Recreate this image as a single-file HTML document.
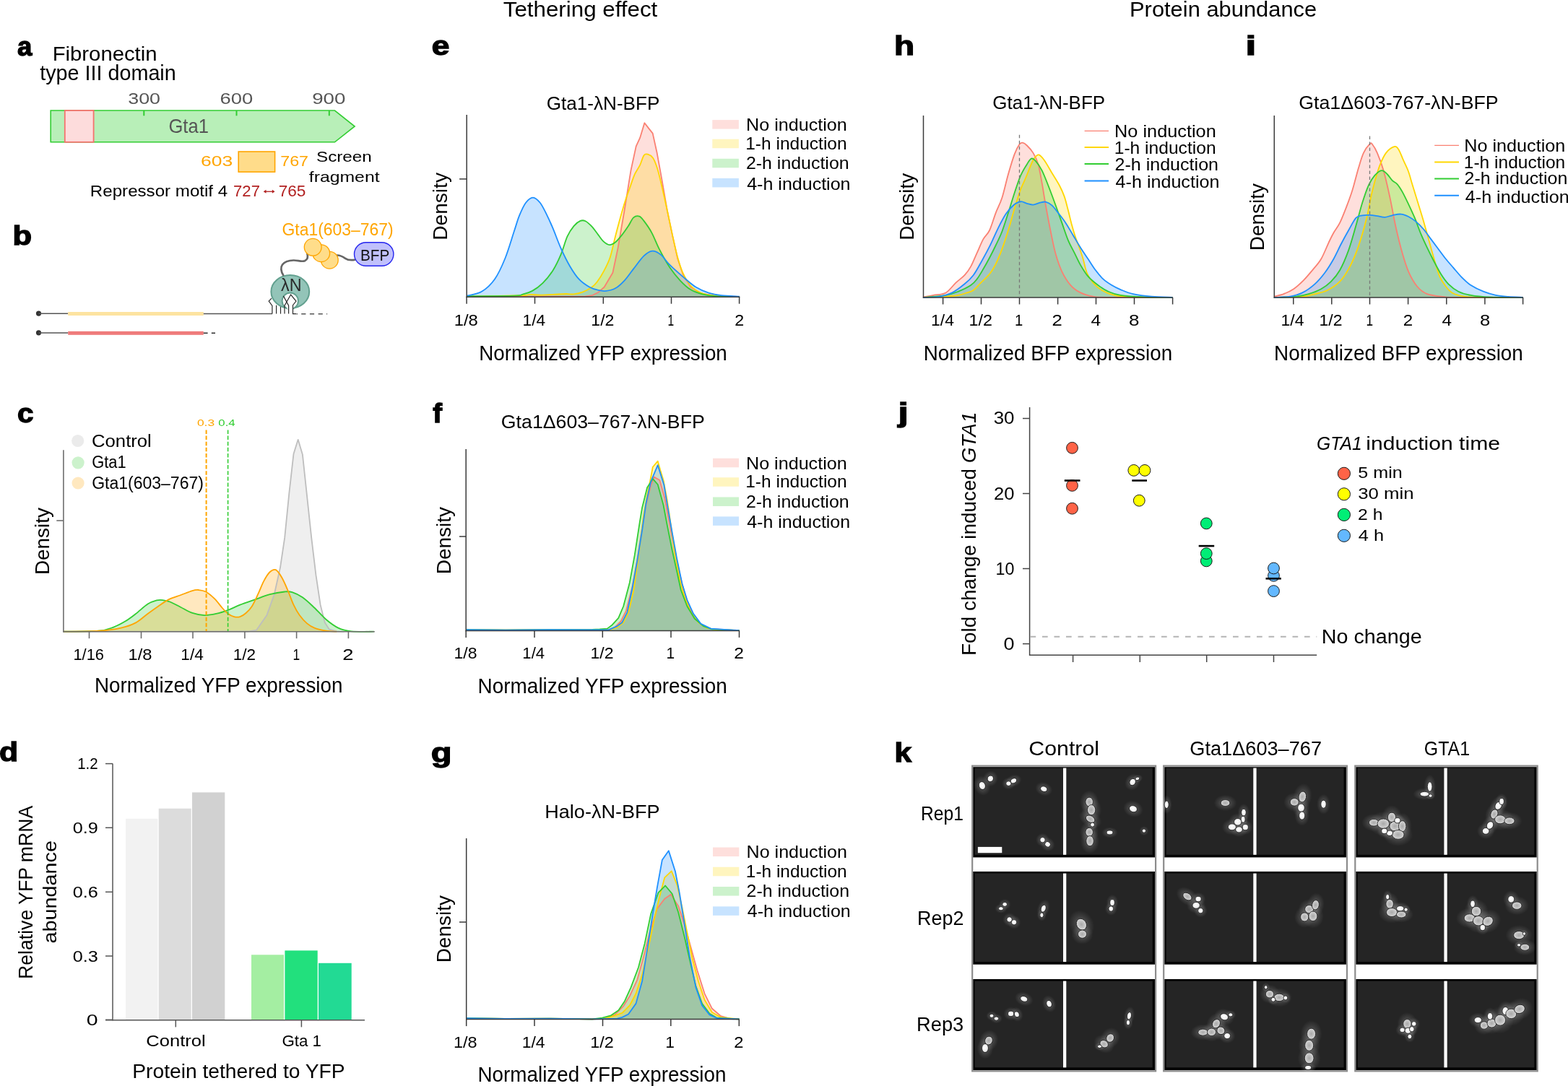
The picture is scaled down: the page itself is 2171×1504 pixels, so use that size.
<!DOCTYPE html>
<html><head><meta charset="utf-8"><title>Figure</title>
<style>html,body{margin:0;padding:0;background:#fff;} svg{display:block;}</style>
</head><body>
<svg width="2171" height="1504" viewBox="0 0 2171 1504" font-family="'Liberation Sans', Arial, sans-serif">
<rect x="0" y="0" width="2171" height="1504" fill="#fff"/>
<text x="72.66" y="83.8" font-size="28.14" textLength="144.89" lengthAdjust="spacingAndGlyphs">Fibronectin</text>
<text x="55.21" y="110.9" font-size="28.57" textLength="188.56" lengthAdjust="spacingAndGlyphs">type III domain</text>
<text x="177.23" y="143.7" font-size="22.14" textLength="44.8" lengthAdjust="spacingAndGlyphs" fill="#555">300</text>
<text x="304.53" y="143.7" font-size="22.14" textLength="45.72" lengthAdjust="spacingAndGlyphs" fill="#555">600</text>
<text x="432.21" y="143.7" font-size="22.14" textLength="46.25" lengthAdjust="spacingAndGlyphs" fill="#555">900</text>
<path d="M70.2,153 L463.5,153 L491.1,175 L463.5,196.8 L70.2,196.8 Z" fill="#b8efb8" stroke="#32CD32" stroke-width="1.6"/>
<rect x="89.8" y="153" width="39.8" height="43.8" fill="#fddcdc" stroke="#F4736E" stroke-width="1.8"/>
<line x1="199.3" y1="153" x2="199.3" y2="160.3" stroke="#32CD32" stroke-width="2"/>
<line x1="327.5" y1="153" x2="327.5" y2="160.3" stroke="#32CD32" stroke-width="2"/>
<line x1="455.8" y1="153" x2="455.8" y2="160.3" stroke="#32CD32" stroke-width="2"/>
<text x="233.42" y="184" font-size="27.57" textLength="55.5" lengthAdjust="spacingAndGlyphs" fill="#555">Gta1</text>
<text x="277.98" y="230.4" font-size="21.14" textLength="44.2" lengthAdjust="spacingAndGlyphs" fill="#FFA500">603</text>
<rect x="330.2" y="210" width="50.4" height="28.1" fill="#ffdc8a" stroke="#FFA500" stroke-width="1.6"/>
<text x="388.24" y="230.4" font-size="21.14" textLength="38.78" lengthAdjust="spacingAndGlyphs" fill="#FFA500">767</text>
<text x="437.99" y="224.4" font-size="21.14" textLength="76.87" lengthAdjust="spacingAndGlyphs">Screen</text>
<text x="427.85" y="252.1" font-size="21.14" textLength="97.69" lengthAdjust="spacingAndGlyphs">fragment</text>
<text x="124.87" y="272" font-size="22.14" textLength="190.34" lengthAdjust="spacingAndGlyphs">Repressor motif 4</text>
<text x="323.09" y="272" font-size="22.14" textLength="36.87" lengthAdjust="spacingAndGlyphs" fill="#B22222">727</text>
<text x="385.67" y="272" font-size="22.14" textLength="37.8" lengthAdjust="spacingAndGlyphs" fill="#B22222">765</text>
<line x1="367" y1="265.3" x2="378.5" y2="265.3" stroke="#B22222" stroke-width="1.3"/>
<path d="M364.7,265.3 L368.5,262.8 L368.5,267.8 Z M380.6,265.3 L376.8,262.8 L376.8,267.8 Z" fill="#B22222"/>
<circle cx="53.5" cy="434.1" r="3.6" fill="#333"/>
<line x1="53.5" y1="434.3" x2="94.2" y2="434.3" stroke="#555" stroke-width="1.5"/>
<rect x="94.2" y="432" width="187.6" height="5" fill="#fde3a0"/>
<line x1="281.8" y1="434.5" x2="377" y2="434.5" stroke="#555" stroke-width="1.5"/>
<circle cx="53.5" cy="460.8" r="3.6" fill="#333"/>
<line x1="53.5" y1="461" x2="94.2" y2="461" stroke="#555" stroke-width="1.5"/>
<rect x="94.2" y="458.8" width="187.6" height="5" fill="#ef7b7b"/>
<line x1="281.8" y1="461.3" x2="287.6" y2="461.3" stroke="#333" stroke-width="1.6"/>
<line x1="292.8" y1="461.3" x2="298" y2="461.3" stroke="#333" stroke-width="1.6"/>
<line x1="410.5" y1="434.8" x2="453.4" y2="434.8" stroke="#555" stroke-width="1.6" stroke-dasharray="1.5,5.2,6.2,5.5,6.2,5.5,6.2,5.3,1"/>
<path d="M376.9,434.6 L376.9,423.5 L372.2,417.1 L376,413.1" fill="none" stroke="#2a2a2a" stroke-width="1.2"/>
<line x1="382.6" y1="434.6" x2="382.6" y2="422.8" stroke="#2a2a2a" stroke-width="1.2"/>
<line x1="388.5" y1="434.6" x2="388.5" y2="422.8" stroke="#2a2a2a" stroke-width="1.2"/>
<ellipse cx="401.8" cy="404" rx="26.4" ry="22.9" fill="#93c4b8" stroke="#62a08f" stroke-width="2"/>
<circle cx="401.8" cy="416.8" r="11.2" fill="#fff" stroke="#62a08f" stroke-width="2"/>
<path d="M396.5,425 L407,425 L404.3,430 L399.2,430 Z" fill="#fff"/>
<path d="M392.4,409.9 L399.6,423.2 L399.6,434.6 M394,434.6 L394,423.2 L402.6,408 L410,417.1 L405.5,422.7 L405.5,434.6 L410,434.6" fill="none" stroke="#2a2a2a" stroke-width="1.2" stroke-linejoin="miter"/>
<text x="389.07" y="403.3" font-size="23.86" textLength="28.55" lengthAdjust="spacingAndGlyphs" fill="#2a2a2a">λN</text>
<path d="M425.3,351 C426.6,355 426.6,359 422,361.2 C418,363 412,360.4 406.5,360.5 C400,360.7 394,362.5 391,366.5 C388.4,370 388.8,376 392.2,381" fill="none" stroke="#666" stroke-width="2.7" stroke-linecap="round"/>
<path d="M466.5,353.5 C471,353.3 474,355 478,357.8 C482,360.6 486,360.6 490.8,359.9" fill="none" stroke="#666" stroke-width="2.7" stroke-linecap="round"/>
<circle cx="456.3" cy="360.2" r="11.9" fill="#ffdd8a" stroke="#FFA500" stroke-width="1.3"/>
<circle cx="444.7" cy="350.7" r="11.9" fill="#ffdd8a" stroke="#FFA500" stroke-width="1.3"/>
<circle cx="433.2" cy="342.3" r="11.9" fill="#ffdd8a" stroke="#FFA500" stroke-width="1.3"/>
<text x="390.55" y="326.1" font-size="23.14" textLength="154.07" lengthAdjust="spacingAndGlyphs" fill="#FFA500">Gta1(603–767)</text>
<rect x="490.5" y="335.7" width="54.4" height="32.5" rx="16.2" ry="16.2" fill="#c0c0fc" stroke="#2525ee" stroke-width="1.4"/>
<text x="498.94" y="360.6" font-size="21.86" textLength="40.29" lengthAdjust="spacingAndGlyphs" fill="#111">BFP</text>
<path d="M87.89,874.72 L270.49,874.72 L332.32,874.52 L344.69,874.31 L354.99,872.66 L369.42,852.05 L379.72,823.2 L387.97,786.1 L394.15,744.88 L400.33,683.05 L406.52,628.43 L412.7,608.85 L418.88,629.46 L425.07,687.17 L431.25,744.88 L437.43,796.41 L443.62,837.63 L449.8,862.36 L455.98,871.63 L466.29,874.31 L476.59,874.72 L476.59,874.7 L87.89,874.7 Z" fill="#BEBEBE" fill-opacity="0.25" stroke="none"/>
<path d="M87.89,874.72 C95.99,874.55 124.98,874.72 136.53,873.69 C148.07,872.66 150.95,870.77 157.14,868.54 C163.32,866.31 168.47,863.39 173.62,860.3 C178.78,857.21 182.9,853.94 188.05,849.99 C193.2,846.04 199.73,839.69 204.54,836.6 C209.35,833.5 213.47,832.37 216.9,831.44 C220.34,830.52 222.06,830.69 225.15,831.03 C228.24,831.37 231.33,831.89 235.45,833.5 C239.58,835.12 244.73,838.14 249.88,840.72 C255.03,843.29 260.87,847.07 266.37,848.96 C271.86,850.85 277.36,851.88 282.86,852.05 C288.35,852.22 293.85,851.19 299.34,849.99 C304.84,848.79 310.34,846.9 315.83,844.84 C321.33,842.78 326.14,840.03 332.32,837.63 C338.5,835.22 346.06,832.82 352.93,830.41 C359.8,828.01 366.67,825.02 373.54,823.2 C380.41,821.38 389,820 394.15,819.49 C399.3,818.97 400.33,818.8 404.46,820.11 C408.58,821.41 413.73,823.71 418.88,827.32 C424.04,830.93 429.87,836.6 435.37,841.75 C440.87,846.9 446.36,853.6 451.86,858.24 C457.36,862.87 462.51,866.89 468.35,869.57 C474.19,872.25 478.65,873.45 486.9,874.31 C495.14,875.17 512.66,874.66 517.81,874.72 L517.81,874.7 L87.89,874.7 Z" fill="#32CD32" fill-opacity="0.25" stroke="none"/>
<path d="M87.89,874.72 C95.99,874.55 123.27,874.55 136.53,873.69 C149.78,872.83 158.85,871.46 167.44,869.57 C176.03,867.68 181.87,865.62 188.05,862.36 C194.23,859.09 199.39,853.77 204.54,849.99 C209.69,846.21 214.16,842.95 218.97,839.69 C223.77,836.42 228.24,832.99 233.39,830.41 C238.54,827.84 244.38,826.29 249.88,824.23 C255.38,822.17 262.25,819.25 266.37,818.05 C270.49,816.84 271.52,816.78 274.61,817.02 C277.7,817.26 281.14,817.43 284.92,819.49 C288.7,821.55 293.51,825.67 297.28,829.38 C301.06,833.09 304.5,838.31 307.59,841.75 C310.68,845.18 313.08,847.93 315.83,849.99 C318.58,852.05 321.33,853.43 324.08,854.11 C326.82,854.8 329.57,854.97 332.32,854.11 C335.07,853.26 337.82,851.37 340.56,848.96 C343.31,846.56 346.06,843.98 348.81,839.69 C351.56,835.39 354.3,829.04 357.05,823.2 C359.8,817.36 362.55,809.8 365.3,804.65 C368.04,799.5 370.79,794.86 373.54,792.28 C376.29,789.71 379.04,787.99 381.78,789.19 C384.53,790.39 387.28,794.86 390.03,799.5 C392.78,804.13 395.52,810.66 398.27,817.02 C401.02,823.37 403.77,831.79 406.52,837.63 C409.26,843.47 411.67,847.76 414.76,852.05 C417.85,856.35 421.63,860.47 425.07,863.39 C428.5,866.31 430.91,867.85 435.37,869.57 C439.84,871.29 446.71,872.83 451.86,873.69 C457.01,874.55 463.88,874.55 466.29,874.72 L466.29,874.7 L87.89,874.7 Z" fill="#FFA500" fill-opacity="0.25" stroke="none"/>
<path d="M87.89,874.72 L270.49,874.72 L332.32,874.52 L344.69,874.31 L354.99,872.66 L369.42,852.05 L379.72,823.2 L387.97,786.1 L394.15,744.88 L400.33,683.05 L406.52,628.43 L412.7,608.85 L418.88,629.46 L425.07,687.17 L431.25,744.88 L437.43,796.41 L443.62,837.63 L449.8,862.36 L455.98,871.63 L466.29,874.31 L476.59,874.72" fill="none" stroke="#BEBEBE" stroke-width="1.8" stroke-linejoin="round"/>
<path d="M87.89,874.72 C95.99,874.55 124.98,874.72 136.53,873.69 C148.07,872.66 150.95,870.77 157.14,868.54 C163.32,866.31 168.47,863.39 173.62,860.3 C178.78,857.21 182.9,853.94 188.05,849.99 C193.2,846.04 199.73,839.69 204.54,836.6 C209.35,833.5 213.47,832.37 216.9,831.44 C220.34,830.52 222.06,830.69 225.15,831.03 C228.24,831.37 231.33,831.89 235.45,833.5 C239.58,835.12 244.73,838.14 249.88,840.72 C255.03,843.29 260.87,847.07 266.37,848.96 C271.86,850.85 277.36,851.88 282.86,852.05 C288.35,852.22 293.85,851.19 299.34,849.99 C304.84,848.79 310.34,846.9 315.83,844.84 C321.33,842.78 326.14,840.03 332.32,837.63 C338.5,835.22 346.06,832.82 352.93,830.41 C359.8,828.01 366.67,825.02 373.54,823.2 C380.41,821.38 389,820 394.15,819.49 C399.3,818.97 400.33,818.8 404.46,820.11 C408.58,821.41 413.73,823.71 418.88,827.32 C424.04,830.93 429.87,836.6 435.37,841.75 C440.87,846.9 446.36,853.6 451.86,858.24 C457.36,862.87 462.51,866.89 468.35,869.57 C474.19,872.25 478.65,873.45 486.9,874.31 C495.14,875.17 512.66,874.66 517.81,874.72" fill="none" stroke="#32CD32" stroke-width="1.8" stroke-linejoin="round"/>
<path d="M87.89,874.72 C95.99,874.55 123.27,874.55 136.53,873.69 C149.78,872.83 158.85,871.46 167.44,869.57 C176.03,867.68 181.87,865.62 188.05,862.36 C194.23,859.09 199.39,853.77 204.54,849.99 C209.69,846.21 214.16,842.95 218.97,839.69 C223.77,836.42 228.24,832.99 233.39,830.41 C238.54,827.84 244.38,826.29 249.88,824.23 C255.38,822.17 262.25,819.25 266.37,818.05 C270.49,816.84 271.52,816.78 274.61,817.02 C277.7,817.26 281.14,817.43 284.92,819.49 C288.7,821.55 293.51,825.67 297.28,829.38 C301.06,833.09 304.5,838.31 307.59,841.75 C310.68,845.18 313.08,847.93 315.83,849.99 C318.58,852.05 321.33,853.43 324.08,854.11 C326.82,854.8 329.57,854.97 332.32,854.11 C335.07,853.26 337.82,851.37 340.56,848.96 C343.31,846.56 346.06,843.98 348.81,839.69 C351.56,835.39 354.3,829.04 357.05,823.2 C359.8,817.36 362.55,809.8 365.3,804.65 C368.04,799.5 370.79,794.86 373.54,792.28 C376.29,789.71 379.04,787.99 381.78,789.19 C384.53,790.39 387.28,794.86 390.03,799.5 C392.78,804.13 395.52,810.66 398.27,817.02 C401.02,823.37 403.77,831.79 406.52,837.63 C409.26,843.47 411.67,847.76 414.76,852.05 C417.85,856.35 421.63,860.47 425.07,863.39 C428.5,866.31 430.91,867.85 435.37,869.57 C439.84,871.29 446.71,872.83 451.86,873.69 C457.01,874.55 463.88,874.55 466.29,874.72" fill="none" stroke="#FFA500" stroke-width="1.8" stroke-linejoin="round"/>
<line x1="285.6" y1="595.5" x2="285.6" y2="874.7" stroke="#FFA500" stroke-width="2" stroke-dasharray="5.5,2.6"/>
<line x1="315.6" y1="595.5" x2="315.6" y2="874.7" stroke="#32CD32" stroke-width="1.6" stroke-dasharray="5.5,2.6"/>
<text x="272.9" y="590.3" font-size="13.29" textLength="24.27" lengthAdjust="spacingAndGlyphs" fill="#FFA500">0.3</text>
<text x="302.33" y="590.3" font-size="13.29" textLength="23.27" lengthAdjust="spacingAndGlyphs" fill="#32CD32">0.4</text>
<line x1="87.9" y1="623.3" x2="87.9" y2="875.45" stroke="#6e6e6e" stroke-width="1.6"/>
<line x1="87.2" y1="874.7" x2="518.8" y2="874.7" stroke="#6e6e6e" stroke-width="1.6"/>
<line x1="78.3" y1="721" x2="87.9" y2="721" stroke="#6e6e6e" stroke-width="1.6"/>
<line x1="123.5" y1="874.7" x2="123.5" y2="884.2" stroke="#6e6e6e" stroke-width="1.6"/>
<line x1="195.5" y1="874.7" x2="195.5" y2="884.2" stroke="#6e6e6e" stroke-width="1.6"/>
<line x1="267" y1="874.7" x2="267" y2="884.2" stroke="#6e6e6e" stroke-width="1.6"/>
<line x1="338.9" y1="874.7" x2="338.9" y2="884.2" stroke="#6e6e6e" stroke-width="1.6"/>
<line x1="410.6" y1="874.7" x2="410.6" y2="884.2" stroke="#6e6e6e" stroke-width="1.6"/>
<line x1="482.4" y1="874.7" x2="482.4" y2="884.2" stroke="#6e6e6e" stroke-width="1.6"/>
<text x="101.45" y="913.9" font-size="22.14" textLength="42.56" lengthAdjust="spacingAndGlyphs">1/16</text>
<text x="177.6" y="913.9" font-size="22.14" textLength="32.98" lengthAdjust="spacingAndGlyphs">1/8</text>
<text x="250.39" y="913.9" font-size="22.14" textLength="31.49" lengthAdjust="spacingAndGlyphs">1/4</text>
<text x="322.8" y="913.9" font-size="22.14" textLength="31.33" lengthAdjust="spacingAndGlyphs">1/2</text>
<text x="405.4" y="913.9" font-size="22.14" textLength="9.7" lengthAdjust="spacingAndGlyphs">1</text>
<text x="474.23" y="913.9" font-size="22.14" textLength="15.23" lengthAdjust="spacingAndGlyphs">2</text>
<text x="130.88" y="958.8" font-size="29" textLength="343.58" lengthAdjust="spacingAndGlyphs">Normalized YFP expression</text>
<text transform="translate(68.1,793.8) rotate(-90)" x="-2.23" y="0" font-size="27.71" textLength="92.95" lengthAdjust="spacingAndGlyphs">Density</text>
<circle cx="107.7" cy="610.5" r="8.6" fill="#BEBEBE" fill-opacity="0.3"/>
<circle cx="108.1" cy="640.8" r="8.6" fill="#32CD32" fill-opacity="0.25"/>
<circle cx="108.1" cy="669" r="8.6" fill="#FFA500" fill-opacity="0.25"/>
<text x="127.02" y="618.7" font-size="24.43" textLength="82.81" lengthAdjust="spacingAndGlyphs">Control</text>
<text x="127.21" y="648" font-size="24.43" textLength="47.44" lengthAdjust="spacingAndGlyphs">Gta1</text>
<text x="127.15" y="676.9" font-size="24.43" textLength="154.78" lengthAdjust="spacingAndGlyphs">Gta1(603–767)</text>
<rect x="174" y="1133.8" width="44.4" height="278.9" fill="#f2f2f2"/>
<rect x="219.7" y="1119.7" width="45" height="293" fill="#dcdcdc"/>
<rect x="266" y="1097.4" width="45.3" height="315.3" fill="#d1d1d1"/>
<rect x="348" y="1322.3" width="45" height="90.4" fill="#a4eea2"/>
<rect x="394.4" y="1316.4" width="45.3" height="96.3" fill="#22e07d"/>
<rect x="441" y="1333.8" width="45.7" height="78.9" fill="#22da94"/>
<line x1="156" y1="1057.6" x2="156" y2="1413.45" stroke="#555" stroke-width="1.5"/>
<line x1="146" y1="1412.7" x2="505" y2="1412.7" stroke="#555" stroke-width="1.5"/>
<line x1="146" y1="1057.6" x2="156" y2="1057.6" stroke="#555" stroke-width="1.5"/>
<text x="107.16" y="1065.2" font-size="21.86" textLength="28.46" lengthAdjust="spacingAndGlyphs">1.2</text>
<line x1="146" y1="1146.3" x2="156" y2="1146.3" stroke="#555" stroke-width="1.5"/>
<text x="100.79" y="1153.9" font-size="21.86" textLength="35.07" lengthAdjust="spacingAndGlyphs">0.9</text>
<line x1="146" y1="1235.3" x2="156" y2="1235.3" stroke="#555" stroke-width="1.5"/>
<text x="100.79" y="1242.9" font-size="21.86" textLength="35.07" lengthAdjust="spacingAndGlyphs">0.6</text>
<line x1="146" y1="1324" x2="156" y2="1324" stroke="#555" stroke-width="1.5"/>
<text x="100.79" y="1331.6" font-size="21.86" textLength="35.07" lengthAdjust="spacingAndGlyphs">0.3</text>
<line x1="146" y1="1412.3" x2="156" y2="1412.3" stroke="#555" stroke-width="1.5"/>
<text x="119.76" y="1419.9" font-size="21.86" textLength="15.87" lengthAdjust="spacingAndGlyphs">0</text>
<line x1="243.3" y1="1412.7" x2="243.3" y2="1422.4" stroke="#555" stroke-width="1.5"/>
<line x1="417.4" y1="1412.7" x2="417.4" y2="1422.4" stroke="#555" stroke-width="1.5"/>
<text x="202.32" y="1449.4" font-size="22.57" textLength="82.4" lengthAdjust="spacingAndGlyphs">Control</text>
<text x="390.38" y="1449.4" font-size="22.57" textLength="54.64" lengthAdjust="spacingAndGlyphs">Gta 1</text>
<text x="183.24" y="1492.8" font-size="28.14" textLength="294.41" lengthAdjust="spacingAndGlyphs">Protein tethered to YFP</text>
<text transform="translate(44.8,1353.8) rotate(-90)" x="-2.13" y="0" font-size="27.71" textLength="240.13" lengthAdjust="spacingAndGlyphs">Relative YFP mRNA</text>
<text transform="translate(77.8,1305.4) rotate(-90)" x="-1.15" y="0" font-size="26.57" textLength="142.45" lengthAdjust="spacingAndGlyphs">abundance</text>
<path d="M646.47,410.79 L810.65,410.43 L819.63,409.18 L828.61,404.69 L836.69,397.5 L848.37,377.74 L855.56,343.61 L864.54,291.52 L873.52,235.83 L880.7,202.6 L886.09,190.93 L892.38,170.27 L898.67,178.35 L903.7,184.64 L909.44,210.69 L916.63,250.2 L923.82,291.52 L931,325.65 L938.19,357.98 L945.37,379.54 L956.15,397.5 L970.52,406.48 L990.28,409.72 L1023.87,410.97 L1023.87,411.2 L646.47,411.2 Z" fill="#FA8072" fill-opacity="0.25" stroke="none"/>
<path d="M646.47,410.61 C658.86,410.37 706.34,409.63 720.83,409.18 C735.32,408.73 728.92,408.01 733.41,407.92 C737.9,407.83 742.39,408.64 747.78,408.64 C753.17,408.64 759.75,408.19 765.74,407.92 C771.73,407.65 778.91,407.11 783.7,407.02 C788.49,406.93 790.59,407.83 794.48,407.38 C798.37,406.93 802.86,405.97 807.06,404.33 C811.25,402.68 816.34,399.84 819.63,397.5 C822.92,395.17 824.12,393.91 826.82,390.32 C829.51,386.72 832.8,381.63 835.8,375.94 C838.79,370.26 842.08,364.27 844.78,356.19 C847.47,348.1 849.57,336.73 851.96,327.44 C854.36,318.16 856.9,308.58 859.15,300.5 C861.39,292.42 863.34,285.53 865.44,278.94 C867.53,272.36 869.48,267.27 871.72,260.98 C873.97,254.69 876.51,246.61 878.91,241.22 C881.3,235.83 884,232.99 886.09,228.65 C888.19,224.31 889.69,217.66 891.48,215.18 C893.28,212.69 894.78,213.14 896.87,213.74 C898.97,214.34 901.81,215.39 904.06,218.77 C906.3,222.15 908.25,227.3 910.34,234.04 C912.44,240.77 914.38,249.61 916.63,259.19 C918.88,268.77 921.42,280.44 923.82,291.52 C926.21,302.6 928.61,314.87 931,325.65 C933.4,336.43 935.79,347.5 938.19,356.19 C940.58,364.87 942.38,371.15 945.37,377.74 C948.36,384.33 951.96,391.06 956.15,395.7 C960.34,400.34 964.83,403.25 970.52,405.58 C976.21,407.92 981.39,408.82 990.28,409.72 C999.17,410.61 1018.27,410.76 1023.87,410.97 L1023.87,411.2 L646.47,411.2 Z" fill="#FFD700" fill-opacity="0.25" stroke="none"/>
<path d="M646.47,410.07 C657.36,410.01 698.86,410.16 711.85,409.72 C724.85,409.27 720.23,408.52 724.43,407.38 C728.62,406.24 732.51,405.43 737,402.89 C741.49,400.34 746.58,396.9 751.37,392.11 C756.16,387.32 761.55,380.73 765.74,374.15 C769.93,367.56 773.23,360.38 776.52,352.59 C779.81,344.81 782.51,334.03 785.5,327.44 C788.49,320.86 791.49,316.67 794.48,313.07 C797.48,309.48 800.77,307.03 803.46,305.89 C806.16,304.75 807.95,304.9 810.65,306.25 C813.34,307.6 816.64,310.74 819.63,313.97 C822.62,317.21 825.92,322.21 828.61,325.65 C831.31,329.09 833.25,332.38 835.8,334.63 C838.34,336.88 841.19,338.97 843.88,339.12 C846.57,339.27 849.12,337.77 851.96,335.53 C854.81,333.28 857.95,329.39 860.94,325.65 C863.94,321.91 867.23,317.12 869.93,313.07 C872.62,309.03 874.57,303.64 877.11,301.4 C879.66,299.15 882.8,298.85 885.19,299.6 C887.59,300.35 888.64,302.15 891.48,305.89 C894.33,309.63 898.67,315.47 902.26,322.06 C905.85,328.64 908.85,337.32 913.04,345.41 C917.23,353.49 922.62,363.37 927.41,370.56 C932.2,377.74 936.99,383.43 941.78,388.52 C946.57,393.61 951.06,397.95 956.15,401.09 C961.24,404.24 966.63,405.88 972.32,407.38 C978,408.88 981.69,409.48 990.28,410.07 C998.87,410.67 1018.27,410.82 1023.87,410.97 L1023.87,411.2 L646.47,411.2 Z" fill="#32CD32" fill-opacity="0.25" stroke="none"/>
<path d="M646.47,409.72 C649.88,408.73 660.54,407.62 666.94,403.79 C673.35,399.96 679.52,394.36 684.91,386.72 C690.3,379.09 694.79,369.06 699.28,357.98 C703.77,346.9 708.56,330.14 711.85,320.26 C715.15,310.38 716.34,305.29 719.04,298.7 C721.73,292.12 724.88,284.93 728.02,280.74 C731.16,276.55 734.61,273.56 737.9,273.56 C741.19,273.56 744.63,276.85 747.78,280.74 C750.92,284.63 753.77,290.92 756.76,296.91 C759.75,302.9 762.45,308.88 765.74,316.67 C769.03,324.45 772.63,334.93 776.52,343.61 C780.41,352.29 784.9,361.57 789.09,368.76 C793.28,375.94 797.18,381.93 801.67,386.72 C806.16,391.51 811.55,394.96 816.04,397.5 C820.53,400.05 824.72,401.09 828.61,401.99 C832.5,402.89 835.5,403.34 839.39,402.89 C843.28,402.44 847.77,401.69 851.96,399.3 C856.15,396.9 860.35,393.01 864.54,388.52 C868.73,384.03 872.62,378.04 877.11,372.35 C881.6,366.66 887.14,358.52 891.48,354.39 C895.82,350.26 899.27,347.86 903.16,347.56 C907.05,347.26 910.79,349.36 914.83,352.59 C918.88,355.83 922.32,361.87 927.41,366.96 C932.5,372.05 939.38,378.04 945.37,383.13 C951.36,388.22 957.35,393.76 963.33,397.5 C969.32,401.24 975.31,403.64 981.3,405.58 C987.28,407.53 992.16,408.34 999.26,409.18 C1006.36,410.01 1019.77,410.37 1023.87,410.61 L1023.87,411.2 L646.47,411.2 Z" fill="#1E90FF" fill-opacity="0.25" stroke="none"/>
<path d="M646.47,410.79 L810.65,410.43 L819.63,409.18 L828.61,404.69 L836.69,397.5 L848.37,377.74 L855.56,343.61 L864.54,291.52 L873.52,235.83 L880.7,202.6 L886.09,190.93 L892.38,170.27 L898.67,178.35 L903.7,184.64 L909.44,210.69 L916.63,250.2 L923.82,291.52 L931,325.65 L938.19,357.98 L945.37,379.54 L956.15,397.5 L970.52,406.48 L990.28,409.72 L1023.87,410.97" fill="none" stroke="#FA8072" stroke-width="1.8" stroke-linejoin="round"/>
<path d="M646.47,410.61 C658.86,410.37 706.34,409.63 720.83,409.18 C735.32,408.73 728.92,408.01 733.41,407.92 C737.9,407.83 742.39,408.64 747.78,408.64 C753.17,408.64 759.75,408.19 765.74,407.92 C771.73,407.65 778.91,407.11 783.7,407.02 C788.49,406.93 790.59,407.83 794.48,407.38 C798.37,406.93 802.86,405.97 807.06,404.33 C811.25,402.68 816.34,399.84 819.63,397.5 C822.92,395.17 824.12,393.91 826.82,390.32 C829.51,386.72 832.8,381.63 835.8,375.94 C838.79,370.26 842.08,364.27 844.78,356.19 C847.47,348.1 849.57,336.73 851.96,327.44 C854.36,318.16 856.9,308.58 859.15,300.5 C861.39,292.42 863.34,285.53 865.44,278.94 C867.53,272.36 869.48,267.27 871.72,260.98 C873.97,254.69 876.51,246.61 878.91,241.22 C881.3,235.83 884,232.99 886.09,228.65 C888.19,224.31 889.69,217.66 891.48,215.18 C893.28,212.69 894.78,213.14 896.87,213.74 C898.97,214.34 901.81,215.39 904.06,218.77 C906.3,222.15 908.25,227.3 910.34,234.04 C912.44,240.77 914.38,249.61 916.63,259.19 C918.88,268.77 921.42,280.44 923.82,291.52 C926.21,302.6 928.61,314.87 931,325.65 C933.4,336.43 935.79,347.5 938.19,356.19 C940.58,364.87 942.38,371.15 945.37,377.74 C948.36,384.33 951.96,391.06 956.15,395.7 C960.34,400.34 964.83,403.25 970.52,405.58 C976.21,407.92 981.39,408.82 990.28,409.72 C999.17,410.61 1018.27,410.76 1023.87,410.97" fill="none" stroke="#FFD700" stroke-width="1.8" stroke-linejoin="round"/>
<path d="M646.47,410.07 C657.36,410.01 698.86,410.16 711.85,409.72 C724.85,409.27 720.23,408.52 724.43,407.38 C728.62,406.24 732.51,405.43 737,402.89 C741.49,400.34 746.58,396.9 751.37,392.11 C756.16,387.32 761.55,380.73 765.74,374.15 C769.93,367.56 773.23,360.38 776.52,352.59 C779.81,344.81 782.51,334.03 785.5,327.44 C788.49,320.86 791.49,316.67 794.48,313.07 C797.48,309.48 800.77,307.03 803.46,305.89 C806.16,304.75 807.95,304.9 810.65,306.25 C813.34,307.6 816.64,310.74 819.63,313.97 C822.62,317.21 825.92,322.21 828.61,325.65 C831.31,329.09 833.25,332.38 835.8,334.63 C838.34,336.88 841.19,338.97 843.88,339.12 C846.57,339.27 849.12,337.77 851.96,335.53 C854.81,333.28 857.95,329.39 860.94,325.65 C863.94,321.91 867.23,317.12 869.93,313.07 C872.62,309.03 874.57,303.64 877.11,301.4 C879.66,299.15 882.8,298.85 885.19,299.6 C887.59,300.35 888.64,302.15 891.48,305.89 C894.33,309.63 898.67,315.47 902.26,322.06 C905.85,328.64 908.85,337.32 913.04,345.41 C917.23,353.49 922.62,363.37 927.41,370.56 C932.2,377.74 936.99,383.43 941.78,388.52 C946.57,393.61 951.06,397.95 956.15,401.09 C961.24,404.24 966.63,405.88 972.32,407.38 C978,408.88 981.69,409.48 990.28,410.07 C998.87,410.67 1018.27,410.82 1023.87,410.97" fill="none" stroke="#32CD32" stroke-width="1.8" stroke-linejoin="round"/>
<path d="M646.47,409.72 C649.88,408.73 660.54,407.62 666.94,403.79 C673.35,399.96 679.52,394.36 684.91,386.72 C690.3,379.09 694.79,369.06 699.28,357.98 C703.77,346.9 708.56,330.14 711.85,320.26 C715.15,310.38 716.34,305.29 719.04,298.7 C721.73,292.12 724.88,284.93 728.02,280.74 C731.16,276.55 734.61,273.56 737.9,273.56 C741.19,273.56 744.63,276.85 747.78,280.74 C750.92,284.63 753.77,290.92 756.76,296.91 C759.75,302.9 762.45,308.88 765.74,316.67 C769.03,324.45 772.63,334.93 776.52,343.61 C780.41,352.29 784.9,361.57 789.09,368.76 C793.28,375.94 797.18,381.93 801.67,386.72 C806.16,391.51 811.55,394.96 816.04,397.5 C820.53,400.05 824.72,401.09 828.61,401.99 C832.5,402.89 835.5,403.34 839.39,402.89 C843.28,402.44 847.77,401.69 851.96,399.3 C856.15,396.9 860.35,393.01 864.54,388.52 C868.73,384.03 872.62,378.04 877.11,372.35 C881.6,366.66 887.14,358.52 891.48,354.39 C895.82,350.26 899.27,347.86 903.16,347.56 C907.05,347.26 910.79,349.36 914.83,352.59 C918.88,355.83 922.32,361.87 927.41,366.96 C932.5,372.05 939.38,378.04 945.37,383.13 C951.36,388.22 957.35,393.76 963.33,397.5 C969.32,401.24 975.31,403.64 981.3,405.58 C987.28,407.53 992.16,408.34 999.26,409.18 C1006.36,410.01 1019.77,410.37 1023.87,410.61" fill="none" stroke="#1E90FF" stroke-width="1.8" stroke-linejoin="round"/>
<line x1="646.2" y1="159" x2="646.2" y2="411.95" stroke="#3a3a3a" stroke-width="1.5"/>
<line x1="645.5" y1="411.2" x2="1024.3" y2="411.2" stroke="#3a3a3a" stroke-width="1.5"/>
<line x1="636.1" y1="247.9" x2="646.2" y2="247.9" stroke="#3a3a3a" stroke-width="1.5"/>
<line x1="646.1" y1="411.2" x2="646.1" y2="420.7" stroke="#3a3a3a" stroke-width="1.5"/>
<line x1="740.5" y1="411.2" x2="740.5" y2="420.7" stroke="#3a3a3a" stroke-width="1.5"/>
<line x1="835.3" y1="411.2" x2="835.3" y2="420.7" stroke="#3a3a3a" stroke-width="1.5"/>
<line x1="929.5" y1="411.2" x2="929.5" y2="420.7" stroke="#3a3a3a" stroke-width="1.5"/>
<line x1="1023.6" y1="411.2" x2="1023.6" y2="420.7" stroke="#3a3a3a" stroke-width="1.5"/>
<text x="628.7" y="451.3" font-size="22.14" textLength="33.1" lengthAdjust="spacingAndGlyphs">1/8</text>
<text x="723.58" y="451.3" font-size="22.14" textLength="31.6" lengthAdjust="spacingAndGlyphs">1/4</text>
<text x="818.35" y="451.3" font-size="22.14" textLength="32.1" lengthAdjust="spacingAndGlyphs">1/2</text>
<text x="924.45" y="451.3" font-size="22.14" textLength="8.66" lengthAdjust="spacingAndGlyphs">1</text>
<text x="1017.34" y="451.3" font-size="22.14" textLength="12.94" lengthAdjust="spacingAndGlyphs">2</text>
<text x="663.28" y="498.8" font-size="29" textLength="343.58" lengthAdjust="spacingAndGlyphs">Normalized YFP expression</text>
<text x="756.8" y="152.1" font-size="25.71" textLength="156.53" lengthAdjust="spacingAndGlyphs">Gta1-λN-BFP</text>
<text transform="translate(619.3,330.6) rotate(-90)" x="-2.25" y="0" font-size="27.71" textLength="93.88" lengthAdjust="spacingAndGlyphs">Density</text>
<rect x="986.3" y="166.1" width="36.6" height="12.5" fill="#FA8072" fill-opacity="0.25"/>
<text x="1033.09" y="180.9" font-size="23.86" textLength="139.64" lengthAdjust="spacingAndGlyphs">No induction</text>
<rect x="986.3" y="192.7" width="36.6" height="12.5" fill="#FFD700" fill-opacity="0.25"/>
<text x="1032.24" y="206.9" font-size="23.86" textLength="140.37" lengthAdjust="spacingAndGlyphs">1-h induction</text>
<rect x="986.3" y="219.8" width="36.6" height="12.5" fill="#32CD32" fill-opacity="0.25"/>
<text x="1032.95" y="234" font-size="23.86" textLength="142.68" lengthAdjust="spacingAndGlyphs">2-h induction</text>
<rect x="986.3" y="246.9" width="36.6" height="12.5" fill="#1E90FF" fill-opacity="0.25"/>
<text x="1034.2" y="263.3" font-size="23.86" textLength="143.34" lengthAdjust="spacingAndGlyphs">4-h induction</text>
<path d="M645.5,872.2 L700,872.6 L760,872.2 L842.47,872.33 L851.11,868.88 L859.75,860.24 L866.66,846.41 L875.31,813.57 L882.22,775.55 L889.13,730.61 L894.32,699.5 L901.23,671.85 L905.55,660.62 L913.33,664.94 L920.24,689.13 L925.43,716.79 L930.61,744.44 L937.53,779 L944.44,808.39 L951.35,832.58 L959.99,851.59 L970.36,864.56 L984.19,870.95 L1023.59,873.2 L1023.59,873.4 L645.5,873.4 Z" fill="#FA8072" fill-opacity="0.25" stroke="none"/>
<path d="M645.5,872.2 L700,872.6 L760,872.2 L842.47,872.68 L854.57,868.88 L863.21,861.96 L870.12,848.14 L877.03,818.76 L882.22,784.19 L887.4,744.44 L890.86,715.06 L896.05,685.68 L900.37,664.94 L903.82,646.79 L910.74,638.67 L914.19,651.11 L918.51,664.94 L923.7,692.59 L928.88,727.16 L934.07,765.18 L940.98,801.47 L947.89,827.4 L956.54,848.14 L966.91,861.96 L979,869.74 L992.83,872.33 L1023.59,873.2 L1023.59,873.4 L645.5,873.4 Z" fill="#FFD700" fill-opacity="0.25" stroke="none"/>
<path d="M645.5,872.2 L700,872.6 L760,872.2 L820,871.99 L830.37,871.47 L840.74,870.6 L847.65,865.42 L856.29,855.91 L863.21,839.5 L871.85,806.66 L878.76,768.63 L885.68,723.7 L889.13,702.96 L896.05,675.31 L903.82,663.21 L910.74,670.99 L918.51,699.5 L923.7,727.16 L930.61,761.72 L937.53,792.83 L942.71,817.03 L951.35,839.5 L961.72,856.78 L973.82,867.15 L985.92,871.47 L1023.59,873.2 L1023.59,873.4 L645.5,873.4 Z" fill="#32CD32" fill-opacity="0.25" stroke="none"/>
<path d="M645.5,872.2 L700,872.6 L760,872.2 L842.47,872.33 L854.57,867.15 L861.48,861.96 L868.39,848.14 L875.31,815.3 L882.22,777.28 L889.13,734.07 L894.32,697.77 L901.23,666.66 L910.74,644.2 L919.38,671.85 L924.56,702.96 L930.61,737.53 L937.53,775.55 L944.44,808.39 L951.35,830.85 L959.99,849.87 L970.36,863.69 L984.19,870.6 L1023.59,873.2 L1023.59,873.4 L645.5,873.4 Z" fill="#1E90FF" fill-opacity="0.25" stroke="none"/>
<path d="M645.5,872.2 L700,872.6 L760,872.2 L842.47,872.33 L851.11,868.88 L859.75,860.24 L866.66,846.41 L875.31,813.57 L882.22,775.55 L889.13,730.61 L894.32,699.5 L901.23,671.85 L905.55,660.62 L913.33,664.94 L920.24,689.13 L925.43,716.79 L930.61,744.44 L937.53,779 L944.44,808.39 L951.35,832.58 L959.99,851.59 L970.36,864.56 L984.19,870.95 L1023.59,873.2" fill="none" stroke="#FA8072" stroke-width="1.8" stroke-linejoin="round"/>
<path d="M645.5,872.2 L700,872.6 L760,872.2 L842.47,872.68 L854.57,868.88 L863.21,861.96 L870.12,848.14 L877.03,818.76 L882.22,784.19 L887.4,744.44 L890.86,715.06 L896.05,685.68 L900.37,664.94 L903.82,646.79 L910.74,638.67 L914.19,651.11 L918.51,664.94 L923.7,692.59 L928.88,727.16 L934.07,765.18 L940.98,801.47 L947.89,827.4 L956.54,848.14 L966.91,861.96 L979,869.74 L992.83,872.33 L1023.59,873.2" fill="none" stroke="#FFD700" stroke-width="1.8" stroke-linejoin="round"/>
<path d="M645.5,872.2 L700,872.6 L760,872.2 L820,871.99 L830.37,871.47 L840.74,870.6 L847.65,865.42 L856.29,855.91 L863.21,839.5 L871.85,806.66 L878.76,768.63 L885.68,723.7 L889.13,702.96 L896.05,675.31 L903.82,663.21 L910.74,670.99 L918.51,699.5 L923.7,727.16 L930.61,761.72 L937.53,792.83 L942.71,817.03 L951.35,839.5 L961.72,856.78 L973.82,867.15 L985.92,871.47 L1023.59,873.2" fill="none" stroke="#32CD32" stroke-width="1.8" stroke-linejoin="round"/>
<path d="M645.5,872.2 L700,872.6 L760,872.2 L842.47,872.33 L854.57,867.15 L861.48,861.96 L868.39,848.14 L875.31,815.3 L882.22,777.28 L889.13,734.07 L894.32,697.77 L901.23,666.66 L910.74,644.2 L919.38,671.85 L924.56,702.96 L930.61,737.53 L937.53,775.55 L944.44,808.39 L951.35,830.85 L959.99,849.87 L970.36,863.69 L984.19,870.6 L1023.59,873.2" fill="none" stroke="#1E90FF" stroke-width="1.8" stroke-linejoin="round"/>
<line x1="645.2" y1="622" x2="645.2" y2="874.15" stroke="#3a3a3a" stroke-width="1.5"/>
<line x1="644.5" y1="873.4" x2="1023.5" y2="873.4" stroke="#3a3a3a" stroke-width="1.5"/>
<line x1="636" y1="743" x2="645.2" y2="743" stroke="#3a3a3a" stroke-width="1.5"/>
<line x1="645.2" y1="873.4" x2="645.2" y2="882.9" stroke="#3a3a3a" stroke-width="1.5"/>
<line x1="740" y1="873.4" x2="740" y2="882.9" stroke="#3a3a3a" stroke-width="1.5"/>
<line x1="834.3" y1="873.4" x2="834.3" y2="882.9" stroke="#3a3a3a" stroke-width="1.5"/>
<line x1="929" y1="873.4" x2="929" y2="882.9" stroke="#3a3a3a" stroke-width="1.5"/>
<line x1="1023.5" y1="873.4" x2="1023.5" y2="882.9" stroke="#3a3a3a" stroke-width="1.5"/>
<text x="628.46" y="911.9" font-size="22.14" textLength="31.99" lengthAdjust="spacingAndGlyphs">1/8</text>
<text x="723.33" y="911.9" font-size="22.14" textLength="30.84" lengthAdjust="spacingAndGlyphs">1/4</text>
<text x="817.56" y="911.9" font-size="22.14" textLength="31.99" lengthAdjust="spacingAndGlyphs">1/2</text>
<text x="922.43" y="911.9" font-size="22.14" textLength="11.64" lengthAdjust="spacingAndGlyphs">1</text>
<text x="1016.27" y="911.9" font-size="22.14" textLength="13.66" lengthAdjust="spacingAndGlyphs">2</text>
<text x="661.57" y="960.4" font-size="29" textLength="345.2" lengthAdjust="spacingAndGlyphs">Normalized YFP expression</text>
<text x="693.87" y="593.3" font-size="26.43" textLength="281.91" lengthAdjust="spacingAndGlyphs">Gta1Δ603–767-λN-BFP</text>
<text transform="translate(623.9,793) rotate(-90)" x="-2.24" y="0" font-size="27.71" textLength="93.36" lengthAdjust="spacingAndGlyphs">Density</text>
<rect x="987" y="634.75" width="36" height="12.5" fill="#FA8072" fill-opacity="0.25"/>
<text x="1032.99" y="649.8" font-size="23.86" textLength="139.74" lengthAdjust="spacingAndGlyphs">No induction</text>
<rect x="987" y="661.25" width="36" height="12.5" fill="#FFD700" fill-opacity="0.25"/>
<text x="1032.24" y="675" font-size="23.86" textLength="140.37" lengthAdjust="spacingAndGlyphs">1-h induction</text>
<rect x="987" y="688.45" width="36" height="12.5" fill="#32CD32" fill-opacity="0.25"/>
<text x="1032.95" y="702.5" font-size="23.86" textLength="142.68" lengthAdjust="spacingAndGlyphs">2-h induction</text>
<rect x="987" y="715.35" width="36" height="12.5" fill="#1E90FF" fill-opacity="0.25"/>
<text x="1034.2" y="730.7" font-size="23.86" textLength="142.94" lengthAdjust="spacingAndGlyphs">4-h induction</text>
<path d="M646,1410.2 L700,1410.8 L760,1410.6 L820,1411.47 L837.28,1410.6 L851.11,1405.42 L863.21,1393.32 L871.85,1379.5 L882.22,1357.03 L890.86,1325.92 L899.5,1291.35 L909.87,1258.51 L920.24,1244.69 L928.88,1238.64 L939.25,1255.06 L947.89,1280.98 L956.54,1312.09 L965.18,1343.2 L975.55,1376.04 L985.92,1396.78 L998.02,1407.15 L1010.11,1410.6 L1023.59,1411.47 L1023.59,1411.6 L646,1411.6 Z" fill="#FA8072" fill-opacity="0.25" stroke="none"/>
<path d="M646,1410.2 L700,1410.8 L760,1410.6 L820,1411.47 L837.28,1410.6 L849.38,1407.15 L861.48,1402.83 L871.85,1392.46 L880.49,1376.04 L889.13,1350.11 L897.77,1312.09 L906.42,1270.61 L913.33,1241.23 L920.24,1215.31 L929.75,1206.32 L937.53,1225.68 L944.44,1256.79 L951.35,1291.35 L958.26,1325.92 L966.91,1358.76 L975.55,1384.68 L985.92,1401.96 L998.02,1408.88 L1023.59,1411.47 L1023.59,1411.6 L646,1411.6 Z" fill="#FFD700" fill-opacity="0.25" stroke="none"/>
<path d="M646,1410.2 L700,1410.8 L760,1410.6 L820,1411.47 L833.83,1409.74 L845.92,1406.28 L856.29,1399.37 L864.94,1386.41 L873.58,1367.4 L883.95,1339.74 L892.59,1306.91 L901.23,1265.43 L911.6,1236.05 L921.11,1226.54 L930.61,1237.77 L939.25,1263.7 L947.89,1298.26 L956.54,1336.29 L963.45,1365.67 L972.09,1389.87 L982.46,1403.69 L992.83,1409.74 L1023.59,1411.47 L1023.59,1411.6 L646,1411.6 Z" fill="#32CD32" fill-opacity="0.25" stroke="none"/>
<path d="M646,1410.2 L700,1410.8 L760,1410.6 L820,1411.47 L854.57,1410.6 L861.48,1408.88 L870.12,1404.56 L880.49,1389.87 L889.13,1358.76 L896.05,1315.55 L902.96,1270.61 L909.87,1229.13 L916.79,1191.11 L925.77,1178.15 L934.93,1206.66 L940.98,1237.77 L947.89,1280.98 L954.81,1324.19 L963.45,1367.4 L972.09,1392.46 L982.46,1405.42 L992.83,1410.26 L1023.59,1411.47 L1023.59,1411.6 L646,1411.6 Z" fill="#1E90FF" fill-opacity="0.25" stroke="none"/>
<path d="M646,1410.2 L700,1410.8 L760,1410.6 L820,1411.47 L837.28,1410.6 L851.11,1405.42 L863.21,1393.32 L871.85,1379.5 L882.22,1357.03 L890.86,1325.92 L899.5,1291.35 L909.87,1258.51 L920.24,1244.69 L928.88,1238.64 L939.25,1255.06 L947.89,1280.98 L956.54,1312.09 L965.18,1343.2 L975.55,1376.04 L985.92,1396.78 L998.02,1407.15 L1010.11,1410.6 L1023.59,1411.47" fill="none" stroke="#FA8072" stroke-width="1.8" stroke-linejoin="round"/>
<path d="M646,1410.2 L700,1410.8 L760,1410.6 L820,1411.47 L837.28,1410.6 L849.38,1407.15 L861.48,1402.83 L871.85,1392.46 L880.49,1376.04 L889.13,1350.11 L897.77,1312.09 L906.42,1270.61 L913.33,1241.23 L920.24,1215.31 L929.75,1206.32 L937.53,1225.68 L944.44,1256.79 L951.35,1291.35 L958.26,1325.92 L966.91,1358.76 L975.55,1384.68 L985.92,1401.96 L998.02,1408.88 L1023.59,1411.47" fill="none" stroke="#FFD700" stroke-width="1.8" stroke-linejoin="round"/>
<path d="M646,1410.2 L700,1410.8 L760,1410.6 L820,1411.47 L833.83,1409.74 L845.92,1406.28 L856.29,1399.37 L864.94,1386.41 L873.58,1367.4 L883.95,1339.74 L892.59,1306.91 L901.23,1265.43 L911.6,1236.05 L921.11,1226.54 L930.61,1237.77 L939.25,1263.7 L947.89,1298.26 L956.54,1336.29 L963.45,1365.67 L972.09,1389.87 L982.46,1403.69 L992.83,1409.74 L1023.59,1411.47" fill="none" stroke="#32CD32" stroke-width="1.8" stroke-linejoin="round"/>
<path d="M646,1410.2 L700,1410.8 L760,1410.6 L820,1411.47 L854.57,1410.6 L861.48,1408.88 L870.12,1404.56 L880.49,1389.87 L889.13,1358.76 L896.05,1315.55 L902.96,1270.61 L909.87,1229.13 L916.79,1191.11 L925.77,1178.15 L934.93,1206.66 L940.98,1237.77 L947.89,1280.98 L954.81,1324.19 L963.45,1367.4 L972.09,1392.46 L982.46,1405.42 L992.83,1410.26 L1023.59,1411.47" fill="none" stroke="#1E90FF" stroke-width="1.8" stroke-linejoin="round"/>
<line x1="645.7" y1="1161" x2="645.7" y2="1412.35" stroke="#3a3a3a" stroke-width="1.5"/>
<line x1="645" y1="1411.6" x2="1023.3" y2="1411.6" stroke="#3a3a3a" stroke-width="1.5"/>
<line x1="636" y1="1277" x2="645.7" y2="1277" stroke="#3a3a3a" stroke-width="1.5"/>
<line x1="645.7" y1="1411.6" x2="645.7" y2="1421.1" stroke="#3a3a3a" stroke-width="1.5"/>
<line x1="740" y1="1411.6" x2="740" y2="1421.1" stroke="#3a3a3a" stroke-width="1.5"/>
<line x1="834.5" y1="1411.6" x2="834.5" y2="1421.1" stroke="#3a3a3a" stroke-width="1.5"/>
<line x1="928.8" y1="1411.6" x2="928.8" y2="1421.1" stroke="#3a3a3a" stroke-width="1.5"/>
<line x1="1023.3" y1="1411.6" x2="1023.3" y2="1421.1" stroke="#3a3a3a" stroke-width="1.5"/>
<text x="628.02" y="1450.7" font-size="22.14" textLength="32.65" lengthAdjust="spacingAndGlyphs">1/8</text>
<text x="722.66" y="1450.7" font-size="22.14" textLength="32.04" lengthAdjust="spacingAndGlyphs">1/4</text>
<text x="817.23" y="1450.7" font-size="22.14" textLength="32.54" lengthAdjust="spacingAndGlyphs">1/2</text>
<text x="921.38" y="1450.7" font-size="22.14" textLength="12.67" lengthAdjust="spacingAndGlyphs">1</text>
<text x="1016.22" y="1450.7" font-size="22.14" textLength="13.18" lengthAdjust="spacingAndGlyphs">2</text>
<text x="661.47" y="1497.7" font-size="29" textLength="343.98" lengthAdjust="spacingAndGlyphs">Normalized YFP expression</text>
<text x="754.23" y="1133.2" font-size="26.43" textLength="159.41" lengthAdjust="spacingAndGlyphs">Halo-λN-BFP</text>
<text transform="translate(624.1,1331.1) rotate(-90)" x="-2.24" y="0" font-size="27.71" textLength="93.26" lengthAdjust="spacingAndGlyphs">Density</text>
<rect x="987" y="1173.55" width="36.3" height="12.5" fill="#FA8072" fill-opacity="0.25"/>
<text x="1033.6" y="1187.6" font-size="23.86" textLength="139.23" lengthAdjust="spacingAndGlyphs">No induction</text>
<rect x="987" y="1200.75" width="36.3" height="12.5" fill="#FFD700" fill-opacity="0.25"/>
<text x="1032.85" y="1214.8" font-size="23.86" textLength="139.86" lengthAdjust="spacingAndGlyphs">1-h induction</text>
<rect x="987" y="1228.05" width="36.3" height="12.5" fill="#32CD32" fill-opacity="0.25"/>
<text x="1033.56" y="1242.2" font-size="23.86" textLength="142.48" lengthAdjust="spacingAndGlyphs">2-h induction</text>
<rect x="987" y="1255.35" width="36.3" height="12.5" fill="#1E90FF" fill-opacity="0.25"/>
<text x="1034.8" y="1269.6" font-size="23.86" textLength="142.84" lengthAdjust="spacingAndGlyphs">4-h induction</text>
<path d="M1278.46,411.47 C1280.76,411.04 1287.1,409.88 1292.28,408.88 C1297.47,407.87 1304.38,408.3 1309.57,405.42 C1314.75,402.54 1319.07,395.63 1323.39,391.59 C1327.71,387.56 1332.03,384.97 1335.49,381.22 C1338.95,377.48 1341.25,374.31 1344.13,369.13 C1347.01,363.94 1349.89,356.45 1352.77,350.11 C1355.65,343.78 1358.53,336.29 1361.42,331.1 C1364.3,325.92 1367.18,325.05 1370.06,319 C1372.94,312.96 1375.82,302.3 1378.7,294.81 C1381.58,287.32 1384.46,283 1387.34,274.07 C1390.22,265.14 1393.1,251.31 1395.98,241.23 C1398.86,231.15 1402.03,220.49 1404.62,213.58 C1407.22,206.66 1409.66,202.4 1411.54,199.75 C1413.41,197.1 1414.13,197.39 1415.86,197.68 C1417.59,197.97 1419.46,199.12 1421.91,201.48 C1424.35,203.84 1427.96,207.53 1430.55,211.85 C1433.14,216.17 1435.44,220.49 1437.46,227.4 C1439.48,234.32 1440.92,243.82 1442.65,253.33 C1444.37,262.83 1445.81,273.2 1447.83,284.44 C1449.85,295.67 1452.44,309.5 1454.74,320.73 C1457.05,331.97 1459.06,342.62 1461.66,351.84 C1464.25,361.06 1466.84,368.84 1470.3,376.04 C1473.76,383.24 1478.08,390.15 1482.4,395.05 C1486.72,399.95 1491.04,402.83 1496.22,405.42 C1501.41,408.01 1507.17,409.54 1513.51,410.6 C1519.84,411.67 1515.9,411.58 1534.25,411.81 C1552.6,412.05 1608.71,411.96 1623.6,411.99 L1623.6,412 L1278.46,412 Z" fill="#FA8072" fill-opacity="0.25" stroke="none"/>
<path d="M1278.46,411.99 C1283.64,411.76 1301.5,411.12 1309.57,410.6 C1317.63,410.09 1321.95,409.74 1326.85,408.88 C1331.75,408.01 1335.49,406.57 1338.95,405.42 C1342.4,404.27 1344.42,404.27 1347.59,401.96 C1350.76,399.66 1354.21,395.34 1357.96,391.59 C1361.7,387.85 1366.6,383.82 1370.06,379.5 C1373.51,375.17 1375.82,371.43 1378.7,365.67 C1381.58,359.91 1384.46,352.71 1387.34,344.93 C1390.22,337.15 1393.39,327.36 1395.98,319 C1398.57,310.65 1400.88,301.72 1402.89,294.81 C1404.91,287.89 1406.35,283 1408.08,277.53 C1409.81,272.05 1411.25,267.16 1413.26,261.97 C1415.28,256.79 1417.87,251.89 1420.18,246.42 C1422.48,240.94 1425.07,233.74 1427.09,229.13 C1429.11,224.52 1430.4,221.21 1432.28,218.76 C1434.15,216.31 1436.02,213.87 1438.33,214.44 C1440.63,215.02 1443.08,218.04 1446.1,222.22 C1449.13,226.4 1453.02,233.74 1456.47,239.5 C1459.93,245.26 1463.96,251.31 1466.84,256.79 C1469.72,262.26 1471.74,266.58 1473.76,272.34 C1475.77,278.1 1477.21,284.73 1478.94,291.35 C1480.67,297.98 1482.4,305.75 1484.13,312.09 C1485.85,318.43 1487.58,324.19 1489.31,329.37 C1491.04,334.56 1492.77,338.3 1494.5,343.2 C1496.22,348.1 1497.95,352.99 1499.68,358.76 C1501.41,364.52 1502.56,372.29 1504.87,377.77 C1507.17,383.24 1510.05,387.56 1513.51,391.59 C1516.96,395.63 1520.71,399.08 1525.6,401.96 C1530.5,404.84 1535.69,407.29 1542.89,408.88 C1550.09,410.46 1555.36,410.95 1568.81,411.47 C1582.26,411.99 1614.47,411.9 1623.6,411.99 L1623.6,412 L1278.46,412 Z" fill="#FFD700" fill-opacity="0.25" stroke="none"/>
<path d="M1278.46,411.99 C1283.64,411.47 1301.5,410.26 1309.57,408.88 C1317.63,407.49 1321.09,406 1326.85,403.69 C1332.61,401.39 1339.81,397.93 1344.13,395.05 C1348.45,392.17 1349.89,390.15 1352.77,386.41 C1355.65,382.66 1358.53,377.48 1361.42,372.58 C1364.3,367.69 1367.18,362.5 1370.06,357.03 C1372.94,351.55 1375.82,345.79 1378.7,339.74 C1381.58,333.7 1384.46,328.22 1387.34,320.73 C1390.22,313.24 1393.1,303.74 1395.98,294.81 C1398.86,285.88 1401.74,275.8 1404.62,267.16 C1407.5,258.51 1410.38,249.58 1413.26,242.96 C1416.15,236.33 1419.46,231.29 1421.91,227.4 C1424.35,223.52 1425.94,220.35 1427.96,219.63 C1429.97,218.91 1431.56,220.35 1434,223.08 C1436.45,225.82 1439.77,230.43 1442.65,236.05 C1445.53,241.66 1448.12,248.72 1451.29,256.79 C1454.46,264.85 1458.49,275.8 1461.66,284.44 C1464.83,293.08 1467.42,300.57 1470.3,308.63 C1473.18,316.7 1476.06,325.92 1478.94,332.83 C1481.82,339.74 1484.7,344.35 1487.58,350.11 C1490.46,355.88 1493.06,361.92 1496.22,367.4 C1499.39,372.87 1502.56,378.34 1506.59,382.95 C1510.63,387.56 1515.81,391.59 1520.42,395.05 C1525.03,398.51 1529.06,401.39 1534.25,403.69 C1539.43,406 1542.89,407.58 1551.53,408.88 C1560.17,410.17 1574.08,410.95 1586.1,411.47 C1598.11,411.99 1617.35,411.9 1623.6,411.99 L1623.6,412 L1278.46,412 Z" fill="#32CD32" fill-opacity="0.25" stroke="none"/>
<path d="M1278.46,411.99 C1282.2,411.76 1294.3,411.7 1300.92,410.6 C1307.55,409.51 1312.45,408.3 1318.21,405.42 C1323.97,402.54 1330.59,397.35 1335.49,393.32 C1340.39,389.29 1343.84,386.12 1347.59,381.22 C1351.33,376.33 1354.21,370.57 1357.96,363.94 C1361.7,357.32 1366.02,349.54 1370.06,341.47 C1374.09,333.41 1378.41,323.04 1382.16,315.55 C1385.9,308.06 1389.07,301.72 1392.53,296.54 C1395.98,291.35 1399.44,287.32 1402.89,284.44 C1406.35,281.56 1410.1,279.69 1413.26,279.25 C1416.43,278.82 1419.03,281.13 1421.91,281.85 C1424.79,282.57 1427.67,283.72 1430.55,283.57 C1433.43,283.43 1436.31,281.64 1439.19,280.98 C1442.07,280.32 1444.95,279.02 1447.83,279.6 C1450.71,280.18 1453.59,281.9 1456.47,284.44 C1459.35,286.97 1461.95,290.78 1465.11,294.81 C1468.28,298.84 1472.03,303.45 1475.48,308.63 C1478.94,313.82 1482.4,320.16 1485.85,325.92 C1489.31,331.68 1492.77,337.73 1496.22,343.2 C1499.68,348.67 1503.14,353.57 1506.59,358.76 C1510.05,363.94 1513.51,369.7 1516.96,374.31 C1520.42,378.92 1523.59,382.95 1527.33,386.41 C1531.08,389.87 1535.4,392.6 1539.43,395.05 C1543.46,397.5 1546.63,399.08 1551.53,401.1 C1556.43,403.12 1561.61,405.56 1568.81,407.15 C1576.01,408.73 1585.61,409.83 1594.74,410.6 C1603.87,411.38 1618.79,411.61 1623.6,411.81 L1623.6,412 L1278.46,412 Z" fill="#1E90FF" fill-opacity="0.25" stroke="none"/>
<path d="M1278.46,411.47 C1280.76,411.04 1287.1,409.88 1292.28,408.88 C1297.47,407.87 1304.38,408.3 1309.57,405.42 C1314.75,402.54 1319.07,395.63 1323.39,391.59 C1327.71,387.56 1332.03,384.97 1335.49,381.22 C1338.95,377.48 1341.25,374.31 1344.13,369.13 C1347.01,363.94 1349.89,356.45 1352.77,350.11 C1355.65,343.78 1358.53,336.29 1361.42,331.1 C1364.3,325.92 1367.18,325.05 1370.06,319 C1372.94,312.96 1375.82,302.3 1378.7,294.81 C1381.58,287.32 1384.46,283 1387.34,274.07 C1390.22,265.14 1393.1,251.31 1395.98,241.23 C1398.86,231.15 1402.03,220.49 1404.62,213.58 C1407.22,206.66 1409.66,202.4 1411.54,199.75 C1413.41,197.1 1414.13,197.39 1415.86,197.68 C1417.59,197.97 1419.46,199.12 1421.91,201.48 C1424.35,203.84 1427.96,207.53 1430.55,211.85 C1433.14,216.17 1435.44,220.49 1437.46,227.4 C1439.48,234.32 1440.92,243.82 1442.65,253.33 C1444.37,262.83 1445.81,273.2 1447.83,284.44 C1449.85,295.67 1452.44,309.5 1454.74,320.73 C1457.05,331.97 1459.06,342.62 1461.66,351.84 C1464.25,361.06 1466.84,368.84 1470.3,376.04 C1473.76,383.24 1478.08,390.15 1482.4,395.05 C1486.72,399.95 1491.04,402.83 1496.22,405.42 C1501.41,408.01 1507.17,409.54 1513.51,410.6 C1519.84,411.67 1515.9,411.58 1534.25,411.81 C1552.6,412.05 1608.71,411.96 1623.6,411.99" fill="none" stroke="#FA8072" stroke-width="1.8" stroke-linejoin="round"/>
<path d="M1278.46,411.99 C1283.64,411.76 1301.5,411.12 1309.57,410.6 C1317.63,410.09 1321.95,409.74 1326.85,408.88 C1331.75,408.01 1335.49,406.57 1338.95,405.42 C1342.4,404.27 1344.42,404.27 1347.59,401.96 C1350.76,399.66 1354.21,395.34 1357.96,391.59 C1361.7,387.85 1366.6,383.82 1370.06,379.5 C1373.51,375.17 1375.82,371.43 1378.7,365.67 C1381.58,359.91 1384.46,352.71 1387.34,344.93 C1390.22,337.15 1393.39,327.36 1395.98,319 C1398.57,310.65 1400.88,301.72 1402.89,294.81 C1404.91,287.89 1406.35,283 1408.08,277.53 C1409.81,272.05 1411.25,267.16 1413.26,261.97 C1415.28,256.79 1417.87,251.89 1420.18,246.42 C1422.48,240.94 1425.07,233.74 1427.09,229.13 C1429.11,224.52 1430.4,221.21 1432.28,218.76 C1434.15,216.31 1436.02,213.87 1438.33,214.44 C1440.63,215.02 1443.08,218.04 1446.1,222.22 C1449.13,226.4 1453.02,233.74 1456.47,239.5 C1459.93,245.26 1463.96,251.31 1466.84,256.79 C1469.72,262.26 1471.74,266.58 1473.76,272.34 C1475.77,278.1 1477.21,284.73 1478.94,291.35 C1480.67,297.98 1482.4,305.75 1484.13,312.09 C1485.85,318.43 1487.58,324.19 1489.31,329.37 C1491.04,334.56 1492.77,338.3 1494.5,343.2 C1496.22,348.1 1497.95,352.99 1499.68,358.76 C1501.41,364.52 1502.56,372.29 1504.87,377.77 C1507.17,383.24 1510.05,387.56 1513.51,391.59 C1516.96,395.63 1520.71,399.08 1525.6,401.96 C1530.5,404.84 1535.69,407.29 1542.89,408.88 C1550.09,410.46 1555.36,410.95 1568.81,411.47 C1582.26,411.99 1614.47,411.9 1623.6,411.99" fill="none" stroke="#FFD700" stroke-width="1.8" stroke-linejoin="round"/>
<path d="M1278.46,411.99 C1283.64,411.47 1301.5,410.26 1309.57,408.88 C1317.63,407.49 1321.09,406 1326.85,403.69 C1332.61,401.39 1339.81,397.93 1344.13,395.05 C1348.45,392.17 1349.89,390.15 1352.77,386.41 C1355.65,382.66 1358.53,377.48 1361.42,372.58 C1364.3,367.69 1367.18,362.5 1370.06,357.03 C1372.94,351.55 1375.82,345.79 1378.7,339.74 C1381.58,333.7 1384.46,328.22 1387.34,320.73 C1390.22,313.24 1393.1,303.74 1395.98,294.81 C1398.86,285.88 1401.74,275.8 1404.62,267.16 C1407.5,258.51 1410.38,249.58 1413.26,242.96 C1416.15,236.33 1419.46,231.29 1421.91,227.4 C1424.35,223.52 1425.94,220.35 1427.96,219.63 C1429.97,218.91 1431.56,220.35 1434,223.08 C1436.45,225.82 1439.77,230.43 1442.65,236.05 C1445.53,241.66 1448.12,248.72 1451.29,256.79 C1454.46,264.85 1458.49,275.8 1461.66,284.44 C1464.83,293.08 1467.42,300.57 1470.3,308.63 C1473.18,316.7 1476.06,325.92 1478.94,332.83 C1481.82,339.74 1484.7,344.35 1487.58,350.11 C1490.46,355.88 1493.06,361.92 1496.22,367.4 C1499.39,372.87 1502.56,378.34 1506.59,382.95 C1510.63,387.56 1515.81,391.59 1520.42,395.05 C1525.03,398.51 1529.06,401.39 1534.25,403.69 C1539.43,406 1542.89,407.58 1551.53,408.88 C1560.17,410.17 1574.08,410.95 1586.1,411.47 C1598.11,411.99 1617.35,411.9 1623.6,411.99" fill="none" stroke="#32CD32" stroke-width="1.8" stroke-linejoin="round"/>
<path d="M1278.46,411.99 C1282.2,411.76 1294.3,411.7 1300.92,410.6 C1307.55,409.51 1312.45,408.3 1318.21,405.42 C1323.97,402.54 1330.59,397.35 1335.49,393.32 C1340.39,389.29 1343.84,386.12 1347.59,381.22 C1351.33,376.33 1354.21,370.57 1357.96,363.94 C1361.7,357.32 1366.02,349.54 1370.06,341.47 C1374.09,333.41 1378.41,323.04 1382.16,315.55 C1385.9,308.06 1389.07,301.72 1392.53,296.54 C1395.98,291.35 1399.44,287.32 1402.89,284.44 C1406.35,281.56 1410.1,279.69 1413.26,279.25 C1416.43,278.82 1419.03,281.13 1421.91,281.85 C1424.79,282.57 1427.67,283.72 1430.55,283.57 C1433.43,283.43 1436.31,281.64 1439.19,280.98 C1442.07,280.32 1444.95,279.02 1447.83,279.6 C1450.71,280.18 1453.59,281.9 1456.47,284.44 C1459.35,286.97 1461.95,290.78 1465.11,294.81 C1468.28,298.84 1472.03,303.45 1475.48,308.63 C1478.94,313.82 1482.4,320.16 1485.85,325.92 C1489.31,331.68 1492.77,337.73 1496.22,343.2 C1499.68,348.67 1503.14,353.57 1506.59,358.76 C1510.05,363.94 1513.51,369.7 1516.96,374.31 C1520.42,378.92 1523.59,382.95 1527.33,386.41 C1531.08,389.87 1535.4,392.6 1539.43,395.05 C1543.46,397.5 1546.63,399.08 1551.53,401.1 C1556.43,403.12 1561.61,405.56 1568.81,407.15 C1576.01,408.73 1585.61,409.83 1594.74,410.6 C1603.87,411.38 1618.79,411.61 1623.6,411.81" fill="none" stroke="#1E90FF" stroke-width="1.8" stroke-linejoin="round"/>
<line x1="1278.5" y1="160" x2="1278.5" y2="412.75" stroke="#3a3a3a" stroke-width="1.5"/>
<line x1="1277.8" y1="412" x2="1623.9" y2="412" stroke="#3a3a3a" stroke-width="1.5"/>
<line x1="1305.6" y1="412" x2="1305.6" y2="421.5" stroke="#3a3a3a" stroke-width="1.5"/>
<line x1="1358.5" y1="412" x2="1358.5" y2="421.5" stroke="#3a3a3a" stroke-width="1.5"/>
<line x1="1411.5" y1="412" x2="1411.5" y2="421.5" stroke="#3a3a3a" stroke-width="1.5"/>
<line x1="1464.6" y1="412" x2="1464.6" y2="421.5" stroke="#3a3a3a" stroke-width="1.5"/>
<line x1="1517.5" y1="412" x2="1517.5" y2="421.5" stroke="#3a3a3a" stroke-width="1.5"/>
<line x1="1570.5" y1="412" x2="1570.5" y2="421.5" stroke="#3a3a3a" stroke-width="1.5"/>
<line x1="1623.6" y1="412" x2="1623.6" y2="421.5" stroke="#3a3a3a" stroke-width="1.5"/>
<line x1="1411.5" y1="186.8" x2="1411.5" y2="412" stroke="#777" stroke-width="1.3" stroke-dasharray="4.5,3.5"/>
<text x="1289.06" y="451.2" font-size="22.14" textLength="31.93" lengthAdjust="spacingAndGlyphs">1/4</text>
<text x="1341.53" y="451.2" font-size="22.14" textLength="32.43" lengthAdjust="spacingAndGlyphs">1/2</text>
<text x="1405.08" y="451.2" font-size="22.14" textLength="11.25" lengthAdjust="spacingAndGlyphs">1</text>
<text x="1456.62" y="451.2" font-size="22.14" textLength="14.27" lengthAdjust="spacingAndGlyphs">2</text>
<text x="1510.61" y="451.2" font-size="22.14" textLength="13.63" lengthAdjust="spacingAndGlyphs">4</text>
<text x="1562.96" y="451.2" font-size="22.14" textLength="14.43" lengthAdjust="spacingAndGlyphs">8</text>
<text x="1278.67" y="499.2" font-size="29" textLength="344.53" lengthAdjust="spacingAndGlyphs">Normalized BFP expression</text>
<text x="1374.3" y="151.1" font-size="25.71" textLength="155.82" lengthAdjust="spacingAndGlyphs">Gta1-λN-BFP</text>
<text transform="translate(1265.2,330.6) rotate(-90)" x="-2.23" y="0" font-size="27.71" textLength="93.05" lengthAdjust="spacingAndGlyphs">Density</text>
<line x1="1501.6" y1="181.3" x2="1535" y2="181.3" stroke="#FA8072" stroke-width="1.2"/>
<text x="1543.08" y="190" font-size="24.14" textLength="140.66" lengthAdjust="spacingAndGlyphs">No induction</text>
<line x1="1501.6" y1="204" x2="1535" y2="204" stroke="#FFD700" stroke-width="2"/>
<text x="1542.73" y="212.7" font-size="24.14" textLength="140.88" lengthAdjust="spacingAndGlyphs">1-h induction</text>
<line x1="1501.6" y1="226.9" x2="1535" y2="226.9" stroke="#32CD32" stroke-width="2"/>
<text x="1543.45" y="235.9" font-size="24.14" textLength="143.6" lengthAdjust="spacingAndGlyphs">2-h induction</text>
<line x1="1501.6" y1="250.4" x2="1535" y2="250.4" stroke="#1E90FF" stroke-width="2"/>
<text x="1544.6" y="259.6" font-size="24.14" textLength="143.85" lengthAdjust="spacingAndGlyphs">4-h induction</text>
<path d="M1764.32,410.6 C1766.48,410.03 1772.82,408.88 1777.28,407.15 C1781.75,405.42 1786.5,403.4 1791.11,400.24 C1795.72,397.07 1800.62,392.46 1804.94,388.14 C1809.26,383.82 1813,379.21 1817.03,374.31 C1821.07,369.41 1825.39,365.09 1829.13,358.76 C1832.88,352.42 1836.62,342.34 1839.5,336.29 C1842.38,330.24 1843.82,327.07 1846.42,322.46 C1849.01,317.85 1852.18,314.4 1855.06,308.63 C1857.94,302.87 1860.82,295.38 1863.7,287.89 C1866.58,280.41 1869.46,272.92 1872.34,263.7 C1875.22,254.48 1878.39,241.23 1880.98,232.59 C1883.57,223.95 1885.3,217.38 1887.89,211.85 C1890.49,206.32 1894.52,201.42 1896.54,199.41 C1898.55,197.39 1898.26,197.68 1899.99,199.75 C1901.72,201.83 1904.31,205.8 1906.91,211.85 C1909.5,217.9 1912.67,225.96 1915.55,236.05 C1918.43,246.13 1921.31,259.09 1924.19,272.34 C1927.07,285.59 1929.95,302.59 1932.83,315.55 C1935.71,328.51 1938.59,340.03 1941.47,350.11 C1944.35,360.2 1946.66,368.26 1950.11,376.04 C1953.57,383.82 1957.89,391.59 1962.21,396.78 C1966.53,401.96 1969.99,404.79 1976.04,407.15 C1982.09,409.51 1991.31,410.17 1998.51,410.95 C2005.71,411.73 2000.9,411.64 2019.25,411.81 C2037.6,411.99 2093.71,411.96 2108.6,411.99 L2108.6,412 L1764.32,412 Z" fill="#FA8072" fill-opacity="0.25" stroke="none"/>
<path d="M1764.32,411.99 C1770.8,411.76 1793.85,411.41 1803.21,410.6 C1812.57,409.8 1814.73,408.59 1820.49,407.15 C1826.25,405.71 1832.01,404.84 1837.77,401.96 C1843.53,399.08 1850.16,394.76 1855.06,389.87 C1859.95,384.97 1863.41,379.21 1867.16,372.58 C1870.9,365.96 1874.36,358.18 1877.53,350.11 C1880.69,342.05 1883.57,332.83 1886.17,324.19 C1888.76,315.55 1891.06,306.91 1893.08,298.26 C1895.1,289.62 1896.54,280.12 1898.26,272.34 C1899.99,264.56 1901.43,258.8 1903.45,251.6 C1905.47,244.4 1907.77,235.76 1910.36,229.13 C1912.96,222.51 1915.69,216.17 1919,211.85 C1922.32,207.53 1927.36,204.07 1930.24,203.21 C1933.12,202.34 1934.13,203.5 1936.29,206.66 C1938.45,209.83 1940.9,217.03 1943.2,222.22 C1945.51,227.4 1948.1,232.3 1950.11,237.77 C1952.13,243.25 1953.28,248.43 1955.3,255.06 C1957.32,261.68 1959.91,270.04 1962.21,277.53 C1964.52,285.01 1966.82,292.22 1969.13,299.99 C1971.43,307.77 1973.45,314.97 1976.04,324.19 C1978.63,333.41 1981.8,345.51 1984.68,355.3 C1987.56,365.09 1990.44,376.04 1993.32,382.95 C1996.2,389.87 1999.08,393.03 2001.96,396.78 C2004.84,400.52 2006.28,403.12 2010.6,405.42 C2014.93,407.72 2020.69,409.51 2027.89,410.6 C2035.09,411.7 2040.36,411.76 2053.81,411.99 C2067.26,412.22 2099.47,411.99 2108.6,411.99 L2108.6,412 L1764.32,412 Z" fill="#FFD700" fill-opacity="0.25" stroke="none"/>
<path d="M1764.32,411.99 C1769.36,411.76 1786.64,411.41 1794.57,410.6 C1802.49,409.8 1806.09,408.88 1811.85,407.15 C1817.61,405.42 1823.95,403.12 1829.13,400.24 C1834.32,397.35 1838.64,394.19 1842.96,389.87 C1847.28,385.54 1851.02,381.51 1855.06,374.31 C1859.09,367.11 1863.41,357.03 1867.16,346.66 C1870.9,336.29 1874.36,323.04 1877.53,312.09 C1880.69,301.15 1883.29,290.2 1886.17,280.98 C1889.05,271.76 1891.93,263.12 1894.81,256.79 C1897.69,250.45 1900.43,246.42 1903.45,242.96 C1906.47,239.5 1910.07,236.33 1912.96,236.05 C1915.84,235.76 1918.28,238.93 1920.73,241.23 C1923.18,243.53 1925.34,247.57 1927.65,249.87 C1929.95,252.18 1932.25,252.46 1934.56,255.06 C1936.86,257.65 1938.88,260.82 1941.47,265.43 C1944.06,270.04 1947.23,276.66 1950.11,282.71 C1952.99,288.76 1955.88,294.81 1958.76,301.72 C1961.64,308.63 1964.52,317.28 1967.4,324.19 C1970.28,331.1 1973.16,337.15 1976.04,343.2 C1978.92,349.25 1981.51,354.43 1984.68,360.48 C1987.85,366.53 1991.59,374.02 1995.05,379.5 C1998.51,384.97 2001.39,389.29 2005.42,393.32 C2009.45,397.35 2014.06,401.1 2019.25,403.69 C2024.43,406.28 2029.33,407.58 2036.53,408.88 C2043.73,410.17 2050.44,410.95 2062.45,411.47 C2074.47,411.99 2100.91,411.9 2108.6,411.99 L2108.6,412 L1764.32,412 Z" fill="#32CD32" fill-opacity="0.25" stroke="none"/>
<path d="M1764.32,411.99 C1767.92,411.76 1779.44,411.7 1785.92,410.6 C1792.41,409.51 1797.45,408.3 1803.21,405.42 C1808.97,402.54 1815.31,397.93 1820.49,393.32 C1825.68,388.71 1830,383.53 1834.32,377.77 C1838.64,372.01 1842.67,365.38 1846.42,358.76 C1850.16,352.13 1853.33,344.64 1856.79,338.02 C1860.24,331.39 1863.7,325.05 1867.16,319 C1870.61,312.96 1874.36,305.18 1877.53,301.72 C1880.69,298.26 1883,298.9 1886.17,298.26 C1889.34,297.63 1893.08,297.78 1896.54,297.92 C1899.99,298.06 1903.45,298.64 1906.91,299.13 C1910.36,299.62 1913.82,301 1917.28,300.86 C1920.73,300.71 1923.9,298.98 1927.65,298.26 C1931.39,297.54 1936,296.25 1939.74,296.54 C1943.49,296.82 1946.66,298.26 1950.11,299.99 C1953.57,301.72 1957.03,304.03 1960.48,306.91 C1963.94,309.79 1967.4,313.24 1970.85,317.28 C1974.31,321.31 1977.77,326.49 1981.22,331.1 C1984.68,335.71 1988.14,340.32 1991.59,344.93 C1995.05,349.54 1998.51,354.43 2001.96,358.76 C2005.42,363.08 2008.59,366.53 2012.33,370.85 C2016.08,375.17 2020.4,380.65 2024.43,384.68 C2028.46,388.71 2031.63,391.88 2036.53,395.05 C2041.43,398.22 2048.05,401.39 2053.81,403.69 C2059.57,406 2065.33,407.67 2071.1,408.88 C2076.86,410.09 2082.13,410.46 2088.38,410.95 C2094.63,411.44 2105.23,411.67 2108.6,411.81 L2108.6,412 L1764.32,412 Z" fill="#1E90FF" fill-opacity="0.25" stroke="none"/>
<path d="M1764.32,410.6 C1766.48,410.03 1772.82,408.88 1777.28,407.15 C1781.75,405.42 1786.5,403.4 1791.11,400.24 C1795.72,397.07 1800.62,392.46 1804.94,388.14 C1809.26,383.82 1813,379.21 1817.03,374.31 C1821.07,369.41 1825.39,365.09 1829.13,358.76 C1832.88,352.42 1836.62,342.34 1839.5,336.29 C1842.38,330.24 1843.82,327.07 1846.42,322.46 C1849.01,317.85 1852.18,314.4 1855.06,308.63 C1857.94,302.87 1860.82,295.38 1863.7,287.89 C1866.58,280.41 1869.46,272.92 1872.34,263.7 C1875.22,254.48 1878.39,241.23 1880.98,232.59 C1883.57,223.95 1885.3,217.38 1887.89,211.85 C1890.49,206.32 1894.52,201.42 1896.54,199.41 C1898.55,197.39 1898.26,197.68 1899.99,199.75 C1901.72,201.83 1904.31,205.8 1906.91,211.85 C1909.5,217.9 1912.67,225.96 1915.55,236.05 C1918.43,246.13 1921.31,259.09 1924.19,272.34 C1927.07,285.59 1929.95,302.59 1932.83,315.55 C1935.71,328.51 1938.59,340.03 1941.47,350.11 C1944.35,360.2 1946.66,368.26 1950.11,376.04 C1953.57,383.82 1957.89,391.59 1962.21,396.78 C1966.53,401.96 1969.99,404.79 1976.04,407.15 C1982.09,409.51 1991.31,410.17 1998.51,410.95 C2005.71,411.73 2000.9,411.64 2019.25,411.81 C2037.6,411.99 2093.71,411.96 2108.6,411.99" fill="none" stroke="#FA8072" stroke-width="1.8" stroke-linejoin="round"/>
<path d="M1764.32,411.99 C1770.8,411.76 1793.85,411.41 1803.21,410.6 C1812.57,409.8 1814.73,408.59 1820.49,407.15 C1826.25,405.71 1832.01,404.84 1837.77,401.96 C1843.53,399.08 1850.16,394.76 1855.06,389.87 C1859.95,384.97 1863.41,379.21 1867.16,372.58 C1870.9,365.96 1874.36,358.18 1877.53,350.11 C1880.69,342.05 1883.57,332.83 1886.17,324.19 C1888.76,315.55 1891.06,306.91 1893.08,298.26 C1895.1,289.62 1896.54,280.12 1898.26,272.34 C1899.99,264.56 1901.43,258.8 1903.45,251.6 C1905.47,244.4 1907.77,235.76 1910.36,229.13 C1912.96,222.51 1915.69,216.17 1919,211.85 C1922.32,207.53 1927.36,204.07 1930.24,203.21 C1933.12,202.34 1934.13,203.5 1936.29,206.66 C1938.45,209.83 1940.9,217.03 1943.2,222.22 C1945.51,227.4 1948.1,232.3 1950.11,237.77 C1952.13,243.25 1953.28,248.43 1955.3,255.06 C1957.32,261.68 1959.91,270.04 1962.21,277.53 C1964.52,285.01 1966.82,292.22 1969.13,299.99 C1971.43,307.77 1973.45,314.97 1976.04,324.19 C1978.63,333.41 1981.8,345.51 1984.68,355.3 C1987.56,365.09 1990.44,376.04 1993.32,382.95 C1996.2,389.87 1999.08,393.03 2001.96,396.78 C2004.84,400.52 2006.28,403.12 2010.6,405.42 C2014.93,407.72 2020.69,409.51 2027.89,410.6 C2035.09,411.7 2040.36,411.76 2053.81,411.99 C2067.26,412.22 2099.47,411.99 2108.6,411.99" fill="none" stroke="#FFD700" stroke-width="1.8" stroke-linejoin="round"/>
<path d="M1764.32,411.99 C1769.36,411.76 1786.64,411.41 1794.57,410.6 C1802.49,409.8 1806.09,408.88 1811.85,407.15 C1817.61,405.42 1823.95,403.12 1829.13,400.24 C1834.32,397.35 1838.64,394.19 1842.96,389.87 C1847.28,385.54 1851.02,381.51 1855.06,374.31 C1859.09,367.11 1863.41,357.03 1867.16,346.66 C1870.9,336.29 1874.36,323.04 1877.53,312.09 C1880.69,301.15 1883.29,290.2 1886.17,280.98 C1889.05,271.76 1891.93,263.12 1894.81,256.79 C1897.69,250.45 1900.43,246.42 1903.45,242.96 C1906.47,239.5 1910.07,236.33 1912.96,236.05 C1915.84,235.76 1918.28,238.93 1920.73,241.23 C1923.18,243.53 1925.34,247.57 1927.65,249.87 C1929.95,252.18 1932.25,252.46 1934.56,255.06 C1936.86,257.65 1938.88,260.82 1941.47,265.43 C1944.06,270.04 1947.23,276.66 1950.11,282.71 C1952.99,288.76 1955.88,294.81 1958.76,301.72 C1961.64,308.63 1964.52,317.28 1967.4,324.19 C1970.28,331.1 1973.16,337.15 1976.04,343.2 C1978.92,349.25 1981.51,354.43 1984.68,360.48 C1987.85,366.53 1991.59,374.02 1995.05,379.5 C1998.51,384.97 2001.39,389.29 2005.42,393.32 C2009.45,397.35 2014.06,401.1 2019.25,403.69 C2024.43,406.28 2029.33,407.58 2036.53,408.88 C2043.73,410.17 2050.44,410.95 2062.45,411.47 C2074.47,411.99 2100.91,411.9 2108.6,411.99" fill="none" stroke="#32CD32" stroke-width="1.8" stroke-linejoin="round"/>
<path d="M1764.32,411.99 C1767.92,411.76 1779.44,411.7 1785.92,410.6 C1792.41,409.51 1797.45,408.3 1803.21,405.42 C1808.97,402.54 1815.31,397.93 1820.49,393.32 C1825.68,388.71 1830,383.53 1834.32,377.77 C1838.64,372.01 1842.67,365.38 1846.42,358.76 C1850.16,352.13 1853.33,344.64 1856.79,338.02 C1860.24,331.39 1863.7,325.05 1867.16,319 C1870.61,312.96 1874.36,305.18 1877.53,301.72 C1880.69,298.26 1883,298.9 1886.17,298.26 C1889.34,297.63 1893.08,297.78 1896.54,297.92 C1899.99,298.06 1903.45,298.64 1906.91,299.13 C1910.36,299.62 1913.82,301 1917.28,300.86 C1920.73,300.71 1923.9,298.98 1927.65,298.26 C1931.39,297.54 1936,296.25 1939.74,296.54 C1943.49,296.82 1946.66,298.26 1950.11,299.99 C1953.57,301.72 1957.03,304.03 1960.48,306.91 C1963.94,309.79 1967.4,313.24 1970.85,317.28 C1974.31,321.31 1977.77,326.49 1981.22,331.1 C1984.68,335.71 1988.14,340.32 1991.59,344.93 C1995.05,349.54 1998.51,354.43 2001.96,358.76 C2005.42,363.08 2008.59,366.53 2012.33,370.85 C2016.08,375.17 2020.4,380.65 2024.43,384.68 C2028.46,388.71 2031.63,391.88 2036.53,395.05 C2041.43,398.22 2048.05,401.39 2053.81,403.69 C2059.57,406 2065.33,407.67 2071.1,408.88 C2076.86,410.09 2082.13,410.46 2088.38,410.95 C2094.63,411.44 2105.23,411.67 2108.6,411.81" fill="none" stroke="#1E90FF" stroke-width="1.8" stroke-linejoin="round"/>
<line x1="1764.3" y1="160" x2="1764.3" y2="412.75" stroke="#3a3a3a" stroke-width="1.5"/>
<line x1="1763.6" y1="412" x2="2109" y2="412" stroke="#3a3a3a" stroke-width="1.5"/>
<line x1="1790.8" y1="412" x2="1790.8" y2="421.5" stroke="#3a3a3a" stroke-width="1.5"/>
<line x1="1843.8" y1="412" x2="1843.8" y2="421.5" stroke="#3a3a3a" stroke-width="1.5"/>
<line x1="1896.5" y1="412" x2="1896.5" y2="421.5" stroke="#3a3a3a" stroke-width="1.5"/>
<line x1="1949.6" y1="412" x2="1949.6" y2="421.5" stroke="#3a3a3a" stroke-width="1.5"/>
<line x1="2002.8" y1="412" x2="2002.8" y2="421.5" stroke="#3a3a3a" stroke-width="1.5"/>
<line x1="2055.9" y1="412" x2="2055.9" y2="421.5" stroke="#3a3a3a" stroke-width="1.5"/>
<line x1="2108.6" y1="412" x2="2108.6" y2="421.5" stroke="#3a3a3a" stroke-width="1.5"/>
<line x1="1896.5" y1="188.5" x2="1896.5" y2="412" stroke="#777" stroke-width="1.3" stroke-dasharray="4.5,3.5"/>
<text x="1773.56" y="451.2" font-size="22.14" textLength="32.04" lengthAdjust="spacingAndGlyphs">1/4</text>
<text x="1826.56" y="451.2" font-size="22.14" textLength="31.99" lengthAdjust="spacingAndGlyphs">1/2</text>
<text x="1891.52" y="451.2" font-size="22.14" textLength="9.57" lengthAdjust="spacingAndGlyphs">1</text>
<text x="1942.89" y="451.2" font-size="22.14" textLength="13.42" lengthAdjust="spacingAndGlyphs">2</text>
<text x="1996.51" y="451.2" font-size="22.14" textLength="13.52" lengthAdjust="spacingAndGlyphs">4</text>
<text x="2049.08" y="451.2" font-size="22.14" textLength="14.2" lengthAdjust="spacingAndGlyphs">8</text>
<text x="1764.07" y="499.2" font-size="29" textLength="344.74" lengthAdjust="spacingAndGlyphs">Normalized BFP expression</text>
<text x="1798.26" y="151.1" font-size="25.71" textLength="276.43" lengthAdjust="spacingAndGlyphs">Gta1Δ603-767-λN-BFP</text>
<text transform="translate(1750.3,345) rotate(-90)" x="-2.24" y="0" font-size="27.71" textLength="93.16" lengthAdjust="spacingAndGlyphs">Density</text>
<line x1="1986.2" y1="201.3" x2="2020" y2="201.3" stroke="#FA8072" stroke-width="1.2"/>
<text x="2027.28" y="209.6" font-size="24.14" textLength="140.05" lengthAdjust="spacingAndGlyphs">No induction</text>
<line x1="1986.2" y1="224.4" x2="2020" y2="224.4" stroke="#FFD700" stroke-width="2"/>
<text x="2026.84" y="232.9" font-size="24.14" textLength="140.37" lengthAdjust="spacingAndGlyphs">1-h induction</text>
<line x1="1986.2" y1="247.4" x2="2020" y2="247.4" stroke="#32CD32" stroke-width="2"/>
<text x="2027.55" y="255.4" font-size="24.14" textLength="142.78" lengthAdjust="spacingAndGlyphs">2-h induction</text>
<line x1="1986.2" y1="270.8" x2="2020" y2="270.8" stroke="#1E90FF" stroke-width="2"/>
<text x="2028.8" y="280.9" font-size="24.14" textLength="143.85" lengthAdjust="spacingAndGlyphs">4-h induction</text>
<line x1="1425.6" y1="564" x2="1425.6" y2="908" stroke="#444" stroke-width="1.5"/>
<line x1="1425" y1="907.3" x2="1823.2" y2="907.3" stroke="#444" stroke-width="1.5"/>
<line x1="1416" y1="579.5" x2="1425.6" y2="579.5" stroke="#444" stroke-width="1.5"/>
<text x="1375.66" y="587" font-size="23" textLength="28.87" lengthAdjust="spacingAndGlyphs">30</text>
<line x1="1416" y1="683.5" x2="1425.6" y2="683.5" stroke="#444" stroke-width="1.5"/>
<text x="1376.02" y="691.8" font-size="23" textLength="28.51" lengthAdjust="spacingAndGlyphs">20</text>
<line x1="1416" y1="787.5" x2="1425.6" y2="787.5" stroke="#444" stroke-width="1.5"/>
<text x="1378.54" y="796" font-size="23" textLength="25.91" lengthAdjust="spacingAndGlyphs">10</text>
<line x1="1416" y1="891.6" x2="1425.6" y2="891.6" stroke="#444" stroke-width="1.5"/>
<text x="1389.62" y="900" font-size="23" textLength="15.06" lengthAdjust="spacingAndGlyphs">0</text>
<line x1="1485.6" y1="907.3" x2="1485.6" y2="917" stroke="#444" stroke-width="1.5"/>
<line x1="1578.3" y1="907.3" x2="1578.3" y2="917" stroke="#444" stroke-width="1.5"/>
<line x1="1670.7" y1="907.3" x2="1670.7" y2="917" stroke="#444" stroke-width="1.5"/>
<line x1="1763.5" y1="907.3" x2="1763.5" y2="917" stroke="#444" stroke-width="1.5"/>
<line x1="1426.5" y1="881.7" x2="1823.2" y2="881.7" stroke="#b4b4b4" stroke-width="2" stroke-dasharray="7.7,8.8"/>
<text x="1829.7" y="890.6" font-size="26.71" textLength="138.94" lengthAdjust="spacingAndGlyphs">No change</text>
<text transform="translate(1351.3,905.7) rotate(-90)" x="-2.23" y="0" font-size="28.43" textLength="337.37" lengthAdjust="spacingAndGlyphs">Fold change induced <tspan font-style="italic">GTA1</tspan></text>
<circle cx="1484.5" cy="704.2" r="7.9" fill="#FF6347" stroke="#1a1a1a" stroke-width="1"/>
<circle cx="1484.5" cy="672.4" r="7.9" fill="#FF6347" stroke="#1a1a1a" stroke-width="1"/>
<circle cx="1484.5" cy="620.3" r="7.9" fill="#FF6347" stroke="#1a1a1a" stroke-width="1"/>
<circle cx="1577.3" cy="693.2" r="7.9" fill="#FFFF00" stroke="#1a1a1a" stroke-width="1"/>
<circle cx="1569.8" cy="651.4" r="7.9" fill="#FFFF00" stroke="#1a1a1a" stroke-width="1"/>
<circle cx="1585" cy="651.4" r="7.9" fill="#FFFF00" stroke="#1a1a1a" stroke-width="1"/>
<circle cx="1670.3" cy="776.9" r="7.9" fill="#00EE76" stroke="#1a1a1a" stroke-width="1"/>
<circle cx="1670.3" cy="766.6" r="7.9" fill="#00EE76" stroke="#1a1a1a" stroke-width="1"/>
<circle cx="1670.3" cy="724.9" r="7.9" fill="#00EE76" stroke="#1a1a1a" stroke-width="1"/>
<circle cx="1763.5" cy="818.6" r="7.9" fill="#63B8FF" stroke="#1a1a1a" stroke-width="1"/>
<circle cx="1763.5" cy="797.3" r="7.9" fill="#63B8FF" stroke="#1a1a1a" stroke-width="1"/>
<circle cx="1763.5" cy="787" r="7.9" fill="#63B8FF" stroke="#1a1a1a" stroke-width="1"/>
<line x1="1473.8" y1="665.5" x2="1495.5" y2="665.5" stroke="#000" stroke-width="2.6"/>
<line x1="1567.3" y1="665.5" x2="1588" y2="665.5" stroke="#000" stroke-width="2.6"/>
<line x1="1659.7" y1="756.1" x2="1681.2" y2="756.1" stroke="#000" stroke-width="2.6"/>
<line x1="1752.5" y1="801.3" x2="1773.8" y2="801.3" stroke="#000" stroke-width="2.6"/>
<text x="1823.07" y="622.9" font-size="26.57" textLength="62.59" lengthAdjust="spacingAndGlyphs" font-style="italic">GTA1</text>
<text x="1891.29" y="622.9" font-size="26.57" textLength="185.7" lengthAdjust="spacingAndGlyphs">induction time</text>
<circle cx="1860.9" cy="655.8" r="8.6" fill="#FF6347" stroke="#1a1a1a" stroke-width="1"/>
<text x="1880.29" y="662.4" font-size="21.29" textLength="61.44" lengthAdjust="spacingAndGlyphs">5 min</text>
<circle cx="1860.9" cy="684.3" r="8.6" fill="#FFFF00" stroke="#1a1a1a" stroke-width="1"/>
<text x="1880.27" y="691.4" font-size="21.29" textLength="77.31" lengthAdjust="spacingAndGlyphs">30 min</text>
<circle cx="1860.9" cy="712.9" r="8.6" fill="#00EE76" stroke="#1a1a1a" stroke-width="1"/>
<text x="1880.06" y="720.1" font-size="21.29" textLength="34.37" lengthAdjust="spacingAndGlyphs">2 h</text>
<circle cx="1860.9" cy="741.8" r="8.6" fill="#63B8FF" stroke="#1a1a1a" stroke-width="1"/>
<text x="1880.79" y="748.6" font-size="21.29" textLength="35.28" lengthAdjust="spacingAndGlyphs">4 h</text>
<defs><radialGradient id="cg" cx="45%" cy="45%" r="60%"><stop offset="0" stop-color="#ffffff"/><stop offset="0.7" stop-color="#ececec"/><stop offset="1" stop-color="#b0b0b0"/></radialGradient><radialGradient id="cg2" cx="50%" cy="50%" r="55%"><stop offset="0" stop-color="#a8a8a8"/><stop offset="0.7" stop-color="#cccccc"/><stop offset="1" stop-color="#f2f2f2"/></radialGradient><radialGradient id="halo"><stop offset="0" stop-color="#fff" stop-opacity="0.30"/><stop offset="0.6" stop-color="#fff" stop-opacity="0.10"/><stop offset="1" stop-color="#fff" stop-opacity="0"/></radialGradient></defs>
<rect x="1346.2" y="1060.6" width="253.9" height="422.8" fill="#fff" stroke="#8c8c8c" stroke-width="2.2"/>
<rect x="1347.3" y="1062.2" width="251.7" height="125.2" fill="#030303"/>
<rect x="1349.6" y="1063.6" width="246.1" height="120.2" fill="#252525"/>
<rect x="1347.3" y="1207" width="251.7" height="128.7" fill="#030303"/>
<rect x="1349.6" y="1209.6" width="246.1" height="122.5" fill="#252525"/>
<rect x="1347.3" y="1356" width="251.7" height="126" fill="#030303"/>
<rect x="1349.6" y="1358.6" width="246.1" height="119.8" fill="#252525"/>
<ellipse cx="1359.89" cy="1088.02" rx="11.23" ry="14.04" fill="url(#halo)" transform="rotate(-20 1359.89 1088.02)"/>
<ellipse cx="1371.3" cy="1078.37" rx="10.3" ry="11.23" fill="url(#halo)" transform="rotate(30 1371.3 1078.37)"/>
<ellipse cx="1396.45" cy="1085.1" rx="9.36" ry="8.42" fill="url(#halo)"/>
<ellipse cx="1403.47" cy="1081.3" rx="11.23" ry="8.42" fill="url(#halo)" transform="rotate(-20 1403.47 1081.3)"/>
<ellipse cx="1445.29" cy="1092.7" rx="12.17" ry="9.36" fill="url(#halo)" transform="rotate(20 1445.29 1092.7)"/>
<ellipse cx="1443.54" cy="1163.19" rx="9.36" ry="9.36" fill="url(#halo)"/>
<ellipse cx="1450.56" cy="1169.33" rx="10.3" ry="9.36" fill="url(#halo)" transform="rotate(40 1450.56 1169.33)"/>
<ellipse cx="1508.18" cy="1110.54" rx="13.1" ry="15.91" fill="url(#halo)"/>
<ellipse cx="1511.1" cy="1121.66" rx="14.04" ry="17.78" fill="url(#halo)"/>
<ellipse cx="1509.64" cy="1134.24" rx="16.85" ry="11.23" fill="url(#halo)" transform="rotate(30 1509.64 1134.24)"/>
<ellipse cx="1512.57" cy="1142.13" rx="7.49" ry="7.49" fill="url(#halo)"/>
<ellipse cx="1508.18" cy="1152.37" rx="13.1" ry="14.98" fill="url(#halo)"/>
<ellipse cx="1509.06" cy="1164.65" rx="13.1" ry="17.78" fill="url(#halo)"/>
<ellipse cx="1568.14" cy="1083.05" rx="10.3" ry="12.17" fill="url(#halo)" transform="rotate(30 1568.14 1083.05)"/>
<ellipse cx="1574.86" cy="1078.37" rx="7.49" ry="5.62" fill="url(#halo)" transform="rotate(-20 1574.86 1078.37)"/>
<ellipse cx="1569.01" cy="1120.2" rx="14.04" ry="11.23" fill="url(#halo)" transform="rotate(20 1569.01 1120.2)"/>
<ellipse cx="1536.55" cy="1152.95" rx="11.23" ry="7.49" fill="url(#halo)"/>
<ellipse cx="1583.93" cy="1150.61" rx="6.55" ry="6.55" fill="url(#halo)"/>
<ellipse cx="1359.89" cy="1088.02" rx="4.49" ry="5.62" fill="url(#cg)" stroke="#151515" stroke-width="0.8" transform="rotate(-20 1359.89 1088.02)"/>
<ellipse cx="1371.3" cy="1078.37" rx="4.12" ry="4.49" fill="url(#cg)" stroke="#151515" stroke-width="0.8" transform="rotate(30 1371.3 1078.37)"/>
<ellipse cx="1396.45" cy="1085.1" rx="3.74" ry="3.37" fill="url(#cg)" stroke="#151515" stroke-width="0.8"/>
<ellipse cx="1403.47" cy="1081.3" rx="4.49" ry="3.37" fill="url(#cg)" stroke="#151515" stroke-width="0.8" transform="rotate(-20 1403.47 1081.3)"/>
<ellipse cx="1445.29" cy="1092.7" rx="4.87" ry="3.74" fill="url(#cg)" stroke="#151515" stroke-width="0.8" transform="rotate(20 1445.29 1092.7)"/>
<ellipse cx="1443.54" cy="1163.19" rx="3.74" ry="3.74" fill="url(#cg)" stroke="#151515" stroke-width="0.8"/>
<ellipse cx="1450.56" cy="1169.33" rx="4.12" ry="3.74" fill="url(#cg)" stroke="#151515" stroke-width="0.8" transform="rotate(40 1450.56 1169.33)"/>
<ellipse cx="1508.18" cy="1110.54" rx="5.24" ry="6.36" fill="url(#cg2)" stroke="#151515" stroke-width="0.8"/>
<ellipse cx="1511.1" cy="1121.66" rx="5.62" ry="7.11" fill="url(#cg2)" stroke="#151515" stroke-width="0.8"/>
<ellipse cx="1509.64" cy="1134.24" rx="6.74" ry="4.49" fill="url(#cg2)" stroke="#151515" stroke-width="0.8" transform="rotate(30 1509.64 1134.24)"/>
<ellipse cx="1512.57" cy="1142.13" rx="3" ry="3" fill="url(#cg)" stroke="#151515" stroke-width="0.8"/>
<ellipse cx="1508.18" cy="1152.37" rx="5.24" ry="5.99" fill="url(#cg2)" stroke="#151515" stroke-width="0.8"/>
<ellipse cx="1509.06" cy="1164.65" rx="5.24" ry="7.11" fill="url(#cg2)" stroke="#151515" stroke-width="0.8"/>
<ellipse cx="1568.14" cy="1083.05" rx="4.12" ry="4.87" fill="url(#cg)" stroke="#151515" stroke-width="0.8" transform="rotate(30 1568.14 1083.05)"/>
<ellipse cx="1574.86" cy="1078.37" rx="3" ry="2.25" fill="url(#cg)" stroke="#151515" stroke-width="0.8" transform="rotate(-20 1574.86 1078.37)"/>
<ellipse cx="1569.01" cy="1120.2" rx="5.62" ry="4.49" fill="url(#cg)" stroke="#151515" stroke-width="0.8" transform="rotate(20 1569.01 1120.2)"/>
<ellipse cx="1536.55" cy="1152.95" rx="4.49" ry="3" fill="url(#cg)" stroke="#151515" stroke-width="0.8"/>
<ellipse cx="1583.93" cy="1150.61" rx="2.62" ry="2.62" fill="url(#cg)" stroke="#151515" stroke-width="0.8"/>
<ellipse cx="1391.18" cy="1252.4" rx="8.42" ry="7.49" fill="url(#halo)"/>
<ellipse cx="1385.92" cy="1258.25" rx="8.42" ry="6.55" fill="url(#halo)"/>
<ellipse cx="1397.62" cy="1273.46" rx="9.36" ry="9.36" fill="url(#halo)"/>
<ellipse cx="1404.05" cy="1277.26" rx="9.36" ry="9.36" fill="url(#halo)"/>
<ellipse cx="1444.71" cy="1258.25" rx="8.42" ry="13.1" fill="url(#halo)" transform="rotate(20 1444.71 1258.25)"/>
<ellipse cx="1442.37" cy="1267.32" rx="6.55" ry="8.42" fill="url(#halo)"/>
<ellipse cx="1497.36" cy="1280.18" rx="16.85" ry="20.59" fill="url(#halo)" transform="rotate(-30 1497.36 1280.18)"/>
<ellipse cx="1498.53" cy="1293.64" rx="14.98" ry="14.04" fill="url(#halo)"/>
<ellipse cx="1540.06" cy="1250.06" rx="8.42" ry="11.23" fill="url(#halo)"/>
<ellipse cx="1538.3" cy="1258.54" rx="8.42" ry="9.36" fill="url(#halo)"/>
<ellipse cx="1391.18" cy="1252.4" rx="3.37" ry="3" fill="url(#cg)" stroke="#151515" stroke-width="0.8"/>
<ellipse cx="1385.92" cy="1258.25" rx="3.37" ry="2.62" fill="url(#cg)" stroke="#151515" stroke-width="0.8"/>
<ellipse cx="1397.62" cy="1273.46" rx="3.74" ry="3.74" fill="url(#cg)" stroke="#151515" stroke-width="0.8"/>
<ellipse cx="1404.05" cy="1277.26" rx="3.74" ry="3.74" fill="url(#cg)" stroke="#151515" stroke-width="0.8"/>
<ellipse cx="1444.71" cy="1258.25" rx="3.37" ry="5.24" fill="url(#cg)" stroke="#151515" stroke-width="0.8" transform="rotate(20 1444.71 1258.25)"/>
<ellipse cx="1442.37" cy="1267.32" rx="2.62" ry="3.37" fill="url(#cg)" stroke="#151515" stroke-width="0.8"/>
<ellipse cx="1497.36" cy="1280.18" rx="6.74" ry="8.24" fill="url(#cg2)" stroke="#151515" stroke-width="0.8" transform="rotate(-30 1497.36 1280.18)"/>
<ellipse cx="1498.53" cy="1293.64" rx="5.99" ry="5.62" fill="url(#cg2)" stroke="#151515" stroke-width="0.8"/>
<ellipse cx="1540.06" cy="1250.06" rx="3.37" ry="4.49" fill="url(#cg)" stroke="#151515" stroke-width="0.8"/>
<ellipse cx="1538.3" cy="1258.54" rx="3.37" ry="3.74" fill="url(#cg)" stroke="#151515" stroke-width="0.8"/>
<ellipse cx="1417.8" cy="1383.43" rx="13.1" ry="9.36" fill="url(#halo)" transform="rotate(20 1417.8 1383.43)"/>
<ellipse cx="1452.61" cy="1390.16" rx="9.36" ry="12.17" fill="url(#halo)" transform="rotate(-20 1452.61 1390.16)"/>
<ellipse cx="1373.05" cy="1406.83" rx="7.49" ry="6.55" fill="url(#halo)"/>
<ellipse cx="1379.49" cy="1410.63" rx="8.42" ry="6.55" fill="url(#halo)"/>
<ellipse cx="1399.67" cy="1403.9" rx="10.3" ry="9.36" fill="url(#halo)"/>
<ellipse cx="1407.86" cy="1404.78" rx="8.42" ry="10.3" fill="url(#halo)" transform="rotate(-20 1407.86 1404.78)"/>
<ellipse cx="1368.96" cy="1441.05" rx="13.1" ry="14.98" fill="url(#halo)" transform="rotate(20 1368.96 1441.05)"/>
<ellipse cx="1363.98" cy="1451.58" rx="11.23" ry="14.98" fill="url(#halo)"/>
<ellipse cx="1563.46" cy="1406.83" rx="7.49" ry="13.1" fill="url(#halo)" transform="rotate(10 1563.46 1406.83)"/>
<ellipse cx="1561.99" cy="1416.19" rx="6.55" ry="9.36" fill="url(#halo)"/>
<ellipse cx="1537.13" cy="1437.54" rx="13.1" ry="14.98" fill="url(#halo)" transform="rotate(30 1537.13 1437.54)"/>
<ellipse cx="1528.65" cy="1445.73" rx="14.98" ry="12.17" fill="url(#halo)" transform="rotate(30 1528.65 1445.73)"/>
<ellipse cx="1522.51" cy="1449.24" rx="7.49" ry="5.62" fill="url(#halo)"/>
<ellipse cx="1417.8" cy="1383.43" rx="5.24" ry="3.74" fill="url(#cg)" stroke="#151515" stroke-width="0.8" transform="rotate(20 1417.8 1383.43)"/>
<ellipse cx="1452.61" cy="1390.16" rx="3.74" ry="4.87" fill="url(#cg)" stroke="#151515" stroke-width="0.8" transform="rotate(-20 1452.61 1390.16)"/>
<ellipse cx="1373.05" cy="1406.83" rx="3" ry="2.62" fill="url(#cg)" stroke="#151515" stroke-width="0.8"/>
<ellipse cx="1379.49" cy="1410.63" rx="3.37" ry="2.62" fill="url(#cg)" stroke="#151515" stroke-width="0.8"/>
<ellipse cx="1399.67" cy="1403.9" rx="4.12" ry="3.74" fill="url(#cg)" stroke="#151515" stroke-width="0.8"/>
<ellipse cx="1407.86" cy="1404.78" rx="3.37" ry="4.12" fill="url(#cg)" stroke="#151515" stroke-width="0.8" transform="rotate(-20 1407.86 1404.78)"/>
<ellipse cx="1368.96" cy="1441.05" rx="5.24" ry="5.99" fill="url(#cg2)" stroke="#151515" stroke-width="0.8" transform="rotate(20 1368.96 1441.05)"/>
<ellipse cx="1363.98" cy="1451.58" rx="4.49" ry="5.99" fill="url(#cg)" stroke="#151515" stroke-width="0.8"/>
<ellipse cx="1563.46" cy="1406.83" rx="3" ry="5.24" fill="url(#cg)" stroke="#151515" stroke-width="0.8" transform="rotate(10 1563.46 1406.83)"/>
<ellipse cx="1561.99" cy="1416.19" rx="2.62" ry="3.74" fill="url(#cg)" stroke="#151515" stroke-width="0.8"/>
<ellipse cx="1537.13" cy="1437.54" rx="5.24" ry="5.99" fill="url(#cg2)" stroke="#151515" stroke-width="0.8" transform="rotate(30 1537.13 1437.54)"/>
<ellipse cx="1528.65" cy="1445.73" rx="5.99" ry="4.87" fill="url(#cg2)" stroke="#151515" stroke-width="0.8" transform="rotate(30 1528.65 1445.73)"/>
<ellipse cx="1522.51" cy="1449.24" rx="3" ry="2.25" fill="url(#cg)" stroke="#151515" stroke-width="0.8"/>
<rect x="1472" y="1063.6" width="4.3" height="120.2" fill="#fff"/>
<rect x="1472" y="1209.6" width="4.3" height="122.5" fill="#fff"/>
<rect x="1472" y="1358.6" width="4.3" height="119.8" fill="#fff"/>
<rect x="1611.2" y="1060.6" width="253.8" height="422.8" fill="#fff" stroke="#8c8c8c" stroke-width="2.2"/>
<rect x="1612.3" y="1062.2" width="251.6" height="125.2" fill="#030303"/>
<rect x="1614.6" y="1063.6" width="246" height="120.2" fill="#252525"/>
<rect x="1612.3" y="1207" width="251.6" height="128.7" fill="#030303"/>
<rect x="1614.6" y="1209.6" width="246" height="122.5" fill="#252525"/>
<rect x="1612.3" y="1356" width="251.6" height="126" fill="#030303"/>
<rect x="1614.6" y="1358.6" width="246" height="119.8" fill="#252525"/>
<ellipse cx="1615.24" cy="1114.35" rx="7.49" ry="13.1" fill="url(#halo)"/>
<ellipse cx="1696.55" cy="1112.01" rx="15.91" ry="11.23" fill="url(#halo)"/>
<ellipse cx="1721.99" cy="1125.17" rx="8.42" ry="12.17" fill="url(#halo)"/>
<ellipse cx="1721.12" cy="1134.82" rx="7.49" ry="11.23" fill="url(#halo)"/>
<ellipse cx="1713.8" cy="1138.33" rx="13.1" ry="12.17" fill="url(#halo)"/>
<ellipse cx="1705.91" cy="1145.35" rx="14.04" ry="11.23" fill="url(#halo)"/>
<ellipse cx="1715.56" cy="1148.86" rx="12.17" ry="10.3" fill="url(#halo)"/>
<ellipse cx="1724.33" cy="1145.64" rx="10.3" ry="10.3" fill="url(#halo)"/>
<ellipse cx="1792.19" cy="1110.84" rx="14.98" ry="13.1" fill="url(#halo)"/>
<ellipse cx="1803.3" cy="1103.52" rx="13.1" ry="18.72" fill="url(#halo)" transform="rotate(10 1803.3 1103.52)"/>
<ellipse cx="1801.55" cy="1118.73" rx="12.17" ry="14.04" fill="url(#halo)"/>
<ellipse cx="1802.72" cy="1129.56" rx="10.3" ry="14.04" fill="url(#halo)"/>
<ellipse cx="1832.55" cy="1113.76" rx="9.36" ry="14.04" fill="url(#halo)"/>
<ellipse cx="1615.24" cy="1114.35" rx="3" ry="5.24" fill="url(#cg)" stroke="#151515" stroke-width="0.8"/>
<ellipse cx="1696.55" cy="1112.01" rx="6.36" ry="4.49" fill="url(#cg2)" stroke="#151515" stroke-width="0.8"/>
<ellipse cx="1721.99" cy="1125.17" rx="3.37" ry="4.87" fill="url(#cg)" stroke="#151515" stroke-width="0.8"/>
<ellipse cx="1721.12" cy="1134.82" rx="3" ry="4.49" fill="url(#cg)" stroke="#151515" stroke-width="0.8"/>
<ellipse cx="1713.8" cy="1138.33" rx="5.24" ry="4.87" fill="url(#cg)" stroke="#151515" stroke-width="0.8"/>
<ellipse cx="1705.91" cy="1145.35" rx="5.62" ry="4.49" fill="url(#cg)" stroke="#151515" stroke-width="0.8"/>
<ellipse cx="1715.56" cy="1148.86" rx="4.87" ry="4.12" fill="url(#cg)" stroke="#151515" stroke-width="0.8"/>
<ellipse cx="1724.33" cy="1145.64" rx="4.12" ry="4.12" fill="url(#cg)" stroke="#151515" stroke-width="0.8"/>
<ellipse cx="1792.19" cy="1110.84" rx="5.99" ry="5.24" fill="url(#cg2)" stroke="#151515" stroke-width="0.8"/>
<ellipse cx="1803.3" cy="1103.52" rx="5.24" ry="7.49" fill="url(#cg2)" stroke="#151515" stroke-width="0.8" transform="rotate(10 1803.3 1103.52)"/>
<ellipse cx="1801.55" cy="1118.73" rx="4.87" ry="5.62" fill="url(#cg)" stroke="#151515" stroke-width="0.8"/>
<ellipse cx="1802.72" cy="1129.56" rx="4.12" ry="5.62" fill="url(#cg)" stroke="#151515" stroke-width="0.8"/>
<ellipse cx="1832.55" cy="1113.76" rx="3.74" ry="5.62" fill="url(#cg)" stroke="#151515" stroke-width="0.8"/>
<ellipse cx="1643.9" cy="1241.58" rx="16.85" ry="11.23" fill="url(#halo)" transform="rotate(35 1643.9 1241.58)"/>
<ellipse cx="1659.11" cy="1245.09" rx="10.3" ry="9.36" fill="url(#halo)"/>
<ellipse cx="1656.18" cy="1253.86" rx="13.1" ry="11.23" fill="url(#halo)"/>
<ellipse cx="1662.33" cy="1261.17" rx="9.36" ry="9.36" fill="url(#halo)"/>
<ellipse cx="1812.66" cy="1259.13" rx="14.98" ry="14.04" fill="url(#halo)"/>
<ellipse cx="1821.44" cy="1253.28" rx="12.17" ry="16.85" fill="url(#halo)" transform="rotate(10 1821.44 1253.28)"/>
<ellipse cx="1806.23" cy="1269.95" rx="14.04" ry="14.98" fill="url(#halo)"/>
<ellipse cx="1817.93" cy="1268.78" rx="14.98" ry="16.85" fill="url(#halo)"/>
<ellipse cx="1643.9" cy="1241.58" rx="6.74" ry="4.49" fill="url(#cg2)" stroke="#151515" stroke-width="0.8" transform="rotate(35 1643.9 1241.58)"/>
<ellipse cx="1659.11" cy="1245.09" rx="4.12" ry="3.74" fill="url(#cg)" stroke="#151515" stroke-width="0.8"/>
<ellipse cx="1656.18" cy="1253.86" rx="5.24" ry="4.49" fill="url(#cg)" stroke="#151515" stroke-width="0.8"/>
<ellipse cx="1662.33" cy="1261.17" rx="3.74" ry="3.74" fill="url(#cg)" stroke="#151515" stroke-width="0.8"/>
<ellipse cx="1812.66" cy="1259.13" rx="5.99" ry="5.62" fill="url(#cg2)" stroke="#151515" stroke-width="0.8"/>
<ellipse cx="1821.44" cy="1253.28" rx="4.87" ry="6.74" fill="url(#cg2)" stroke="#151515" stroke-width="0.8" transform="rotate(10 1821.44 1253.28)"/>
<ellipse cx="1806.23" cy="1269.95" rx="5.62" ry="5.99" fill="url(#cg2)" stroke="#151515" stroke-width="0.8"/>
<ellipse cx="1817.93" cy="1268.78" rx="5.99" ry="6.74" fill="url(#cg2)" stroke="#151515" stroke-width="0.8"/>
<ellipse cx="1665.54" cy="1429.64" rx="16.85" ry="11.23" fill="url(#halo)"/>
<ellipse cx="1677.54" cy="1429.35" rx="14.98" ry="13.1" fill="url(#halo)"/>
<ellipse cx="1683.97" cy="1417.65" rx="13.1" ry="15.91" fill="url(#halo)" transform="rotate(30 1683.97 1417.65)"/>
<ellipse cx="1695.08" cy="1408.29" rx="14.04" ry="11.23" fill="url(#halo)" transform="rotate(20 1695.08 1408.29)"/>
<ellipse cx="1703.86" cy="1405.37" rx="7.49" ry="6.55" fill="url(#halo)"/>
<ellipse cx="1690.41" cy="1427.3" rx="14.04" ry="13.1" fill="url(#halo)" transform="rotate(30 1690.41 1427.3)"/>
<ellipse cx="1699.18" cy="1434.62" rx="11.23" ry="10.3" fill="url(#halo)"/>
<ellipse cx="1752.7" cy="1367.34" rx="5.62" ry="6.55" fill="url(#halo)"/>
<ellipse cx="1757.97" cy="1376.7" rx="14.04" ry="13.1" fill="url(#halo)"/>
<ellipse cx="1771.13" cy="1381.38" rx="17.78" ry="13.1" fill="url(#halo)"/>
<ellipse cx="1779.9" cy="1381.97" rx="7.49" ry="7.49" fill="url(#halo)"/>
<ellipse cx="1762.94" cy="1384.31" rx="7.49" ry="7.49" fill="url(#halo)"/>
<ellipse cx="1815.59" cy="1431.69" rx="14.98" ry="18.72" fill="url(#halo)"/>
<ellipse cx="1812.66" cy="1447.78" rx="14.98" ry="18.72" fill="url(#halo)"/>
<ellipse cx="1812.66" cy="1465.33" rx="15.91" ry="18.72" fill="url(#halo)"/>
<ellipse cx="1811.2" cy="1478.49" rx="11.23" ry="7.49" fill="url(#halo)"/>
<ellipse cx="1665.54" cy="1429.64" rx="6.74" ry="4.49" fill="url(#cg2)" stroke="#151515" stroke-width="0.8"/>
<ellipse cx="1677.54" cy="1429.35" rx="5.99" ry="5.24" fill="url(#cg2)" stroke="#151515" stroke-width="0.8"/>
<ellipse cx="1683.97" cy="1417.65" rx="5.24" ry="6.36" fill="url(#cg2)" stroke="#151515" stroke-width="0.8" transform="rotate(30 1683.97 1417.65)"/>
<ellipse cx="1695.08" cy="1408.29" rx="5.62" ry="4.49" fill="url(#cg)" stroke="#151515" stroke-width="0.8" transform="rotate(20 1695.08 1408.29)"/>
<ellipse cx="1703.86" cy="1405.37" rx="3" ry="2.62" fill="url(#cg)" stroke="#151515" stroke-width="0.8"/>
<ellipse cx="1690.41" cy="1427.3" rx="5.62" ry="5.24" fill="url(#cg2)" stroke="#151515" stroke-width="0.8" transform="rotate(30 1690.41 1427.3)"/>
<ellipse cx="1699.18" cy="1434.62" rx="4.49" ry="4.12" fill="url(#cg)" stroke="#151515" stroke-width="0.8"/>
<ellipse cx="1752.7" cy="1367.34" rx="2.25" ry="2.62" fill="url(#cg)" stroke="#151515" stroke-width="0.8"/>
<ellipse cx="1757.97" cy="1376.7" rx="5.62" ry="5.24" fill="url(#cg2)" stroke="#151515" stroke-width="0.8"/>
<ellipse cx="1771.13" cy="1381.38" rx="7.11" ry="5.24" fill="url(#cg2)" stroke="#151515" stroke-width="0.8"/>
<ellipse cx="1779.9" cy="1381.97" rx="3" ry="3" fill="url(#cg)" stroke="#151515" stroke-width="0.8"/>
<ellipse cx="1762.94" cy="1384.31" rx="3" ry="3" fill="url(#cg)" stroke="#151515" stroke-width="0.8"/>
<ellipse cx="1815.59" cy="1431.69" rx="5.99" ry="7.49" fill="url(#cg2)" stroke="#151515" stroke-width="0.8"/>
<ellipse cx="1812.66" cy="1447.78" rx="5.99" ry="7.49" fill="url(#cg2)" stroke="#151515" stroke-width="0.8"/>
<ellipse cx="1812.66" cy="1465.33" rx="6.36" ry="7.49" fill="url(#cg2)" stroke="#151515" stroke-width="0.8"/>
<ellipse cx="1811.2" cy="1478.49" rx="4.49" ry="3" fill="url(#cg)" stroke="#151515" stroke-width="0.8"/>
<rect x="1735.3" y="1063.6" width="4.3" height="120.2" fill="#fff"/>
<rect x="1735.3" y="1209.6" width="4.3" height="122.5" fill="#fff"/>
<rect x="1735.3" y="1358.6" width="4.3" height="119.8" fill="#fff"/>
<rect x="1876.3" y="1060.6" width="252.4" height="422.8" fill="#fff" stroke="#8c8c8c" stroke-width="2.2"/>
<rect x="1877.4" y="1062.2" width="250.2" height="125.2" fill="#030303"/>
<rect x="1879.7" y="1063.6" width="244.6" height="120.2" fill="#252525"/>
<rect x="1877.4" y="1207" width="250.2" height="128.7" fill="#030303"/>
<rect x="1879.7" y="1209.6" width="244.6" height="122.5" fill="#252525"/>
<rect x="1877.4" y="1356" width="250.2" height="126" fill="#030303"/>
<rect x="1879.7" y="1358.6" width="244.6" height="119.8" fill="#252525"/>
<ellipse cx="1979.68" cy="1089.49" rx="8.42" ry="16.85" fill="url(#halo)"/>
<ellipse cx="1972.37" cy="1099.72" rx="15.91" ry="8.42" fill="url(#halo)"/>
<ellipse cx="1980.56" cy="1102.06" rx="6.55" ry="5.62" fill="url(#halo)"/>
<ellipse cx="1902.17" cy="1139.21" rx="16.85" ry="12.17" fill="url(#halo)"/>
<ellipse cx="1915.33" cy="1140.67" rx="20.59" ry="16.85" fill="url(#halo)"/>
<ellipse cx="1927.03" cy="1131.9" rx="14.04" ry="16.85" fill="url(#halo)"/>
<ellipse cx="1931.42" cy="1144.18" rx="18.72" ry="16.85" fill="url(#halo)"/>
<ellipse cx="1941.66" cy="1144.18" rx="13.1" ry="18.72" fill="url(#halo)"/>
<ellipse cx="1935.81" cy="1155.88" rx="20.59" ry="15.91" fill="url(#halo)"/>
<ellipse cx="1924.11" cy="1153.83" rx="11.23" ry="9.36" fill="url(#halo)"/>
<ellipse cx="1916.8" cy="1150.91" rx="10.3" ry="9.36" fill="url(#halo)"/>
<ellipse cx="1934.93" cy="1136.28" rx="10.3" ry="9.36" fill="url(#halo)"/>
<ellipse cx="2057.19" cy="1150.91" rx="12.17" ry="11.23" fill="url(#halo)"/>
<ellipse cx="2063.04" cy="1143.01" rx="11.23" ry="14.04" fill="url(#halo)" transform="rotate(30 2063.04 1143.01)"/>
<ellipse cx="2068.89" cy="1127.51" rx="12.17" ry="16.85" fill="url(#halo)" transform="rotate(20 2068.89 1127.51)"/>
<ellipse cx="2074.74" cy="1115.81" rx="11.23" ry="14.98" fill="url(#halo)" transform="rotate(30 2074.74 1115.81)"/>
<ellipse cx="2079.13" cy="1109.96" rx="8.42" ry="11.23" fill="url(#halo)"/>
<ellipse cx="2077.08" cy="1134.82" rx="18.72" ry="14.98" fill="url(#halo)"/>
<ellipse cx="2089.95" cy="1136.87" rx="17.78" ry="12.17" fill="url(#halo)"/>
<ellipse cx="1979.68" cy="1089.49" rx="3.37" ry="6.74" fill="url(#cg)" stroke="#151515" stroke-width="0.8"/>
<ellipse cx="1972.37" cy="1099.72" rx="6.36" ry="3.37" fill="url(#cg)" stroke="#151515" stroke-width="0.8"/>
<ellipse cx="1980.56" cy="1102.06" rx="2.62" ry="2.25" fill="url(#cg)" stroke="#151515" stroke-width="0.8"/>
<ellipse cx="1902.17" cy="1139.21" rx="6.74" ry="4.87" fill="url(#cg2)" stroke="#151515" stroke-width="0.8"/>
<ellipse cx="1915.33" cy="1140.67" rx="8.24" ry="6.74" fill="url(#cg2)" stroke="#151515" stroke-width="0.8"/>
<ellipse cx="1927.03" cy="1131.9" rx="5.62" ry="6.74" fill="url(#cg2)" stroke="#151515" stroke-width="0.8"/>
<ellipse cx="1931.42" cy="1144.18" rx="7.49" ry="6.74" fill="url(#cg2)" stroke="#151515" stroke-width="0.8"/>
<ellipse cx="1941.66" cy="1144.18" rx="5.24" ry="7.49" fill="url(#cg2)" stroke="#151515" stroke-width="0.8"/>
<ellipse cx="1935.81" cy="1155.88" rx="8.24" ry="6.36" fill="url(#cg2)" stroke="#151515" stroke-width="0.8"/>
<ellipse cx="1924.11" cy="1153.83" rx="4.49" ry="3.74" fill="url(#cg)" stroke="#151515" stroke-width="0.8"/>
<ellipse cx="1916.8" cy="1150.91" rx="4.12" ry="3.74" fill="url(#cg)" stroke="#151515" stroke-width="0.8"/>
<ellipse cx="1934.93" cy="1136.28" rx="4.12" ry="3.74" fill="url(#cg)" stroke="#151515" stroke-width="0.8"/>
<ellipse cx="2057.19" cy="1150.91" rx="4.87" ry="4.49" fill="url(#cg)" stroke="#151515" stroke-width="0.8"/>
<ellipse cx="2063.04" cy="1143.01" rx="4.49" ry="5.62" fill="url(#cg)" stroke="#151515" stroke-width="0.8" transform="rotate(30 2063.04 1143.01)"/>
<ellipse cx="2068.89" cy="1127.51" rx="4.87" ry="6.74" fill="url(#cg2)" stroke="#151515" stroke-width="0.8" transform="rotate(20 2068.89 1127.51)"/>
<ellipse cx="2074.74" cy="1115.81" rx="4.49" ry="5.99" fill="url(#cg)" stroke="#151515" stroke-width="0.8" transform="rotate(30 2074.74 1115.81)"/>
<ellipse cx="2079.13" cy="1109.96" rx="3.37" ry="4.49" fill="url(#cg)" stroke="#151515" stroke-width="0.8"/>
<ellipse cx="2077.08" cy="1134.82" rx="7.49" ry="5.99" fill="url(#cg2)" stroke="#151515" stroke-width="0.8"/>
<ellipse cx="2089.95" cy="1136.87" rx="7.11" ry="4.87" fill="url(#cg2)" stroke="#151515" stroke-width="0.8"/>
<ellipse cx="1921.18" cy="1242.16" rx="6.55" ry="9.36" fill="url(#halo)"/>
<ellipse cx="1924.11" cy="1251.81" rx="13.1" ry="15.91" fill="url(#halo)"/>
<ellipse cx="1927.03" cy="1263.51" rx="18.72" ry="14.98" fill="url(#halo)"/>
<ellipse cx="1938.73" cy="1258.25" rx="13.1" ry="9.36" fill="url(#halo)"/>
<ellipse cx="1940.2" cy="1266.44" rx="16.85" ry="11.23" fill="url(#halo)"/>
<ellipse cx="1946.63" cy="1259.71" rx="6.55" ry="6.55" fill="url(#halo)"/>
<ellipse cx="2039.06" cy="1251.81" rx="8.42" ry="12.17" fill="url(#halo)"/>
<ellipse cx="2044.03" cy="1262.05" rx="16.85" ry="16.85" fill="url(#halo)"/>
<ellipse cx="2034.67" cy="1271.41" rx="18.72" ry="14.04" fill="url(#halo)"/>
<ellipse cx="2046.95" cy="1275.21" rx="18.72" ry="16.85" fill="url(#halo)"/>
<ellipse cx="2060.11" cy="1275.8" rx="18.72" ry="15.91" fill="url(#halo)" transform="rotate(-30 2060.11 1275.8)"/>
<ellipse cx="2052.8" cy="1284.57" rx="9.36" ry="10.3" fill="url(#halo)"/>
<ellipse cx="2092.29" cy="1245.38" rx="11.23" ry="12.17" fill="url(#halo)"/>
<ellipse cx="2100.18" cy="1254.15" rx="16.85" ry="13.1" fill="url(#halo)"/>
<ellipse cx="2103.11" cy="1295.1" rx="18.72" ry="14.04" fill="url(#halo)"/>
<ellipse cx="2110.42" cy="1293.05" rx="5.62" ry="5.62" fill="url(#halo)"/>
<ellipse cx="2111.3" cy="1311.77" rx="15.91" ry="11.23" fill="url(#halo)"/>
<ellipse cx="2103.11" cy="1308.85" rx="6.55" ry="5.62" fill="url(#halo)"/>
<ellipse cx="1921.18" cy="1242.16" rx="2.62" ry="3.74" fill="url(#cg)" stroke="#151515" stroke-width="0.8"/>
<ellipse cx="1924.11" cy="1251.81" rx="5.24" ry="6.36" fill="url(#cg2)" stroke="#151515" stroke-width="0.8"/>
<ellipse cx="1927.03" cy="1263.51" rx="7.49" ry="5.99" fill="url(#cg2)" stroke="#151515" stroke-width="0.8"/>
<ellipse cx="1938.73" cy="1258.25" rx="5.24" ry="3.74" fill="url(#cg)" stroke="#151515" stroke-width="0.8"/>
<ellipse cx="1940.2" cy="1266.44" rx="6.74" ry="4.49" fill="url(#cg2)" stroke="#151515" stroke-width="0.8"/>
<ellipse cx="1946.63" cy="1259.71" rx="2.62" ry="2.62" fill="url(#cg)" stroke="#151515" stroke-width="0.8"/>
<ellipse cx="2039.06" cy="1251.81" rx="3.37" ry="4.87" fill="url(#cg)" stroke="#151515" stroke-width="0.8"/>
<ellipse cx="2044.03" cy="1262.05" rx="6.74" ry="6.74" fill="url(#cg2)" stroke="#151515" stroke-width="0.8"/>
<ellipse cx="2034.67" cy="1271.41" rx="7.49" ry="5.62" fill="url(#cg2)" stroke="#151515" stroke-width="0.8"/>
<ellipse cx="2046.95" cy="1275.21" rx="7.49" ry="6.74" fill="url(#cg2)" stroke="#151515" stroke-width="0.8"/>
<ellipse cx="2060.11" cy="1275.8" rx="7.49" ry="6.36" fill="url(#cg2)" stroke="#151515" stroke-width="0.8" transform="rotate(-30 2060.11 1275.8)"/>
<ellipse cx="2052.8" cy="1284.57" rx="3.74" ry="4.12" fill="url(#cg)" stroke="#151515" stroke-width="0.8"/>
<ellipse cx="2092.29" cy="1245.38" rx="4.49" ry="4.87" fill="url(#cg)" stroke="#151515" stroke-width="0.8"/>
<ellipse cx="2100.18" cy="1254.15" rx="6.74" ry="5.24" fill="url(#cg2)" stroke="#151515" stroke-width="0.8"/>
<ellipse cx="2103.11" cy="1295.1" rx="7.49" ry="5.62" fill="url(#cg2)" stroke="#151515" stroke-width="0.8"/>
<ellipse cx="2110.42" cy="1293.05" rx="2.25" ry="2.25" fill="url(#cg)" stroke="#151515" stroke-width="0.8"/>
<ellipse cx="2111.3" cy="1311.77" rx="6.36" ry="4.49" fill="url(#cg2)" stroke="#151515" stroke-width="0.8"/>
<ellipse cx="2103.11" cy="1308.85" rx="2.62" ry="2.25" fill="url(#cg)" stroke="#151515" stroke-width="0.8"/>
<ellipse cx="1948.39" cy="1417.94" rx="14.04" ry="15.91" fill="url(#halo)"/>
<ellipse cx="1957.74" cy="1417.94" rx="8.42" ry="8.42" fill="url(#halo)"/>
<ellipse cx="1941.66" cy="1426.43" rx="9.36" ry="8.42" fill="url(#halo)"/>
<ellipse cx="1949.56" cy="1427.3" rx="11.23" ry="10.3" fill="url(#halo)"/>
<ellipse cx="1954.82" cy="1425.26" rx="8.42" ry="9.36" fill="url(#halo)"/>
<ellipse cx="1951.9" cy="1435.49" rx="7.49" ry="8.42" fill="url(#halo)"/>
<ellipse cx="2046.37" cy="1412.68" rx="13.1" ry="10.3" fill="url(#halo)"/>
<ellipse cx="2054.85" cy="1419.99" rx="14.04" ry="13.1" fill="url(#halo)"/>
<ellipse cx="2065.38" cy="1417.07" rx="15.91" ry="14.98" fill="url(#halo)"/>
<ellipse cx="2063.04" cy="1407.41" rx="9.36" ry="12.17" fill="url(#halo)"/>
<ellipse cx="2077.08" cy="1412.68" rx="18.72" ry="18.72" fill="url(#halo)"/>
<ellipse cx="2084.39" cy="1400.1" rx="11.23" ry="14.04" fill="url(#halo)"/>
<ellipse cx="2092.29" cy="1403.9" rx="18.72" ry="16.85" fill="url(#halo)"/>
<ellipse cx="2103.99" cy="1397.47" rx="18.72" ry="14.98" fill="url(#halo)" transform="rotate(-20 2103.99 1397.47)"/>
<ellipse cx="1948.39" cy="1417.94" rx="5.62" ry="6.36" fill="url(#cg2)" stroke="#151515" stroke-width="0.8"/>
<ellipse cx="1957.74" cy="1417.94" rx="3.37" ry="3.37" fill="url(#cg)" stroke="#151515" stroke-width="0.8"/>
<ellipse cx="1941.66" cy="1426.43" rx="3.74" ry="3.37" fill="url(#cg)" stroke="#151515" stroke-width="0.8"/>
<ellipse cx="1949.56" cy="1427.3" rx="4.49" ry="4.12" fill="url(#cg)" stroke="#151515" stroke-width="0.8"/>
<ellipse cx="1954.82" cy="1425.26" rx="3.37" ry="3.74" fill="url(#cg)" stroke="#151515" stroke-width="0.8"/>
<ellipse cx="1951.9" cy="1435.49" rx="3" ry="3.37" fill="url(#cg)" stroke="#151515" stroke-width="0.8"/>
<ellipse cx="2046.37" cy="1412.68" rx="5.24" ry="4.12" fill="url(#cg)" stroke="#151515" stroke-width="0.8"/>
<ellipse cx="2054.85" cy="1419.99" rx="5.62" ry="5.24" fill="url(#cg2)" stroke="#151515" stroke-width="0.8"/>
<ellipse cx="2065.38" cy="1417.07" rx="6.36" ry="5.99" fill="url(#cg2)" stroke="#151515" stroke-width="0.8"/>
<ellipse cx="2063.04" cy="1407.41" rx="3.74" ry="4.87" fill="url(#cg)" stroke="#151515" stroke-width="0.8"/>
<ellipse cx="2077.08" cy="1412.68" rx="7.49" ry="7.49" fill="url(#cg2)" stroke="#151515" stroke-width="0.8"/>
<ellipse cx="2084.39" cy="1400.1" rx="4.49" ry="5.62" fill="url(#cg)" stroke="#151515" stroke-width="0.8"/>
<ellipse cx="2092.29" cy="1403.9" rx="7.49" ry="6.74" fill="url(#cg2)" stroke="#151515" stroke-width="0.8"/>
<ellipse cx="2103.99" cy="1397.47" rx="7.49" ry="5.99" fill="url(#cg2)" stroke="#151515" stroke-width="0.8" transform="rotate(-20 2103.99 1397.47)"/>
<rect x="1999.4" y="1063.6" width="4.3" height="120.2" fill="#fff"/>
<rect x="1999.4" y="1209.6" width="4.3" height="122.5" fill="#fff"/>
<rect x="1999.4" y="1358.6" width="4.3" height="119.8" fill="#fff"/>
<rect x="1353.9" y="1172.9" width="33.4" height="8.3" fill="#fff"/>
<text x="1424.28" y="1046.3" font-size="27.29" textLength="97.74" lengthAdjust="spacingAndGlyphs">Control</text>
<text x="1647.34" y="1046.3" font-size="27.29" textLength="182.67" lengthAdjust="spacingAndGlyphs">Gta1Δ603–767</text>
<text x="1971.85" y="1046.3" font-size="27.29" textLength="63.23" lengthAdjust="spacingAndGlyphs">GTA1</text>
<text x="1275.03" y="1136.3" font-size="28.43" textLength="58.81" lengthAdjust="spacingAndGlyphs">Rep1</text>
<text x="1270.04" y="1280.6" font-size="28.43" textLength="64.42" lengthAdjust="spacingAndGlyphs">Rep2</text>
<text x="1269.12" y="1427.9" font-size="28.43" textLength="65.16" lengthAdjust="spacingAndGlyphs">Rep3</text>
<text x="696.77" y="22.75" font-size="29.43" textLength="213.5" lengthAdjust="spacingAndGlyphs">Tethering effect</text>
<text x="1564.03" y="22.75" font-size="29.43" textLength="259.15" lengthAdjust="spacingAndGlyphs">Protein abundance</text>
<text x="24" y="76.6" font-size="36.5" textLength="20.36" lengthAdjust="spacingAndGlyphs" font-weight="bold" stroke="#000" stroke-width="1.3">a</text>
<text x="17.55" y="339.3" font-size="36.5" textLength="26.63" lengthAdjust="spacingAndGlyphs" font-weight="bold" stroke="#000" stroke-width="1.3">b</text>
<text x="23.98" y="585.3" font-size="36.5" textLength="22.47" lengthAdjust="spacingAndGlyphs" font-weight="bold" stroke="#000" stroke-width="1.3">c</text>
<text x="-1.11" y="1054.3" font-size="36.5" textLength="26.11" lengthAdjust="spacingAndGlyphs" font-weight="bold" stroke="#000" stroke-width="1.3">d</text>
<text x="597.83" y="76.3" font-size="36.5" textLength="24.68" lengthAdjust="spacingAndGlyphs" font-weight="bold" stroke="#000" stroke-width="1.3">e</text>
<text x="599.33" y="585.3" font-size="36.5" textLength="12.8" lengthAdjust="spacingAndGlyphs" font-weight="bold" stroke="#000" stroke-width="1.3">f</text>
<text x="596.72" y="1055.3" font-size="36.5" textLength="28.71" lengthAdjust="spacingAndGlyphs" font-weight="bold" stroke="#000" stroke-width="1.3">g</text>
<text x="1238.08" y="76.3" font-size="36.5" textLength="28.12" lengthAdjust="spacingAndGlyphs" font-weight="bold" stroke="#000" stroke-width="1.3">h</text>
<text x="1724.6" y="75.7" font-size="36.5" textLength="14.68" lengthAdjust="spacingAndGlyphs" font-weight="bold" stroke="#000" stroke-width="1.3">i</text>
<text x="1243.63" y="584.3" font-size="36.5" textLength="14.25" lengthAdjust="spacingAndGlyphs" font-weight="bold" stroke="#000" stroke-width="1.3">j</text>
<text x="1238.63" y="1055.1" font-size="36.5" textLength="23.61" lengthAdjust="spacingAndGlyphs" font-weight="bold" stroke="#000" stroke-width="1.3">k</text>
</svg>
</body></html>
